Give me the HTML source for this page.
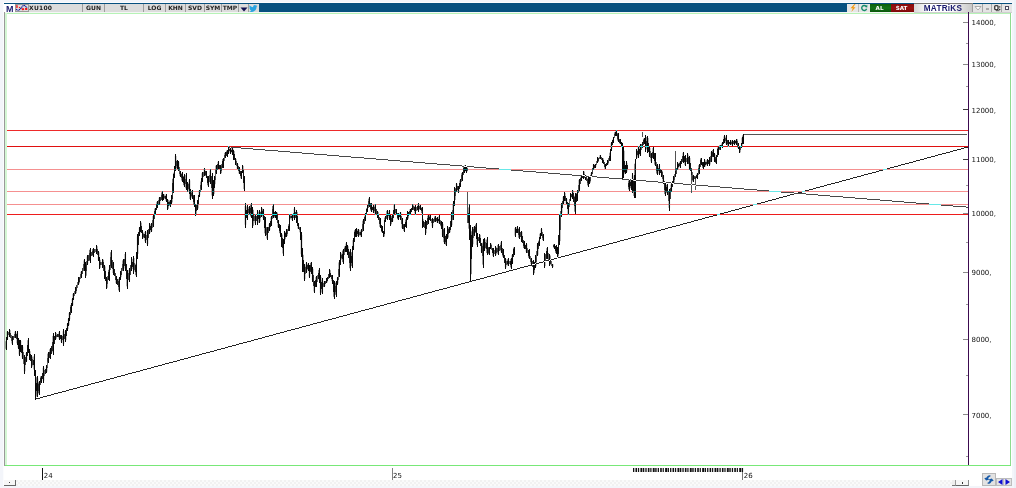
<!DOCTYPE html>
<html><head><meta charset="utf-8"><title>XU100</title>
<style>
html,body{margin:0;padding:0;}
body{width:1016px;height:488px;overflow:hidden;background:#f3f5fa;position:relative;font-family:"DejaVu Sans","Liberation Sans",sans-serif;}
.abs{position:absolute;}
.tb{position:absolute;top:4px;height:8px;background:#dcdcdc;border-right:1px solid #9e9e9e;box-sizing:border-box;font:bold 6px/8.800px "DejaVu Sans","Liberation Sans",sans-serif;color:#222;text-align:center;white-space:nowrap;overflow:hidden;}
</style></head><body>
<div class="abs" style="left:1014px;top:0;width:2px;height:488px;background:#edf0f7;"></div>
<!-- window frame -->
<div class="abs" style="left:3px;top:2px;width:1009px;height:484px;background:#fbfcfe;"></div>
<div class="abs" style="left:4px;top:3px;width:1008px;height:483px;background:#fff;"></div>
<div class="abs" style="left:4px;top:3px;width:1008px;height:9px;background:#07507f;"></div>
<!-- toolbar left -->
<div class="abs" style="left:4px;top:4px;width:11px;height:9px;background:#fff;"></div>
<div class="abs" style="left:6px;top:3.700px;font:bold 9px/10px 'Liberation Sans',sans-serif;color:#1a1a6e;">M</div>
<div class="tb" style="left:15px;width:68px;text-align:left;padding-left:14px;letter-spacing:.25px;">XU100</div>
<svg class="abs" style="left:15px;top:4px" width="14" height="8" viewBox="0 0 14 8"><rect x=".5" y=".5" width="13" height="7" fill="#dedede" stroke="#9a9a9a"/><path d="M1.300 1 H2.400 L2.900 3.600 L1.300 4.200Z M3.900 2.800 L5.200 3.200 L5.200 4.300 L3.900 4Z M6.300 4.300 L9 4.200 L9.200 6 L7 6.300Z M10 4.100 L12.300 3.900 V6 L10.200 6.100Z" fill="#f01414"/><path d="M1.200 5.200 Q3 7.400 5 5.200 L7.400 2.400 Q9 0.600 10.600 2.300 L12 3.800" stroke="#0a0a96" stroke-width="1.100" stroke-dasharray="1.200 .45" fill="none"/></svg>
<div class="tb" style="left:83px;width:22px;">GUN</div>
<div class="tb" style="left:105px;width:39px;">TL</div>
<div class="tb" style="left:144px;width:22px;">LOG</div>
<div class="tb" style="left:166px;width:20px;">KHN</div>
<div class="tb" style="left:186px;width:19px;">SVD</div>
<div class="tb" style="left:205px;width:17px;">SYM</div>
<div class="tb" style="left:222px;width:17px;">TMP</div>
<div class="tb" style="left:239px;width:10px;"></div>
<svg class="abs" style="left:240px;top:6.500px" width="8" height="5"><path d="M0.5 0.5 H7.5 L4 4.5Z" fill="#101050"/></svg>
<div class="tb" style="left:249px;width:10px;border-right:none;"></div>
<svg class="abs" style="left:249.300px;top:4.600px" width="8.600" height="7.200" viewBox="0 0 24 20"><path fill="#2aa3e0" d="M23.6 2.4c-.9.4-1.800.7-2.800.8 1-.6 1.800-1.600 2.100-2.700-.9.600-2 1-3.100 1.200C19 .7 17.700.1 16.300.1c-2.700 0-4.800 2.200-4.800 4.800 0 .4 0 .8.100 1.100C7.600 5.800 4 3.900 1.700 1-.0 3.800 1.500 6.400 2.700 7.400c-.8 0-1.500-.2-2.200-.6v.1c0 2.300 1.700 4.300 3.900 4.700-.7.2-1.500.2-2.200.1.600 1.900 2.400 3.300 4.500 3.400-1.700 1.300-3.700 2.100-6 2.100H0c2.100 1.400 4.700 2.200 7.400 2.200 8.900 0 13.700-7.300 13.700-13.700v-.6c1-.7 1.800-1.500 2.500-2.500z"/></svg>
<!-- toolbar right -->
<div class="tb" style="left:847px;width:12px;background:#e6e6e6;border-right-color:#b8b8b8;"></div>
<svg class="abs" style="left:849px;top:4px" width="8" height="8" viewBox="0 0 8 8"><path d="M5.5 0 L1.5 4.200 H3.800 L2.300 8 L6.500 3.200 H4.200 L6.500 0Z" fill="#f59a10"/></svg>
<div class="tb" style="left:859px;width:11px;border-right:none;background:#e6e6e6;"></div>
<svg class="abs" style="left:860px;top:4px" width="9" height="8" viewBox="0 0 9 8"><path d="M6.100 2.300 A2.500 2.500 0 1 0 6.600 4.800" stroke="#148a6a" stroke-width="1.400" fill="none"/><path d="M4.800 2.900 L7.300 0.800 L7.300 3.600Z" fill="#148a6a"/></svg>
<div class="tb" style="left:870px;width:21px;background:linear-gradient(#0b5e0b,#13741a 50%,#0a560a);color:#fff;border-right:none;font-size:5.600px;padding-right:2px;">AL</div>
<div class="tb" style="left:891px;width:23px;background:linear-gradient(#850b0b,#9a1212 50%,#7c0909);color:#fff;border-right:none;font-size:5.600px;padding-right:2px;">SAT</div>
<div class="tb" style="left:914px;top:3px;height:9px;width:59px;background:linear-gradient(90deg,#d8d8d8,#fff 25%,#fff 60%,#c8c8c8);border-top:1px solid #777;color:#1a1a6e;font:bold 8.200px/10.800px 'Liberation Sans',sans-serif;letter-spacing:.25px;border-bottom:1px solid #aaa;height:10px;">MATRiKS</div>
<div class="tb" style="left:973px;width:10px;background:#e4e4e4;border-right-color:#a8a8a8;"></div>
<svg class="abs" style="left:974px;top:6px" width="8" height="5"><path d="M1 0.5 H7 L4 4Z" fill="#fff" stroke="#999" stroke-width=".8"/></svg>
<div class="tb" style="left:983px;width:9px;background:#e4e4e4;border-right-color:#a8a8a8;"></div>
<div class="abs" style="left:986px;top:8px;width:3px;height:2px;border:1px solid #aaa;box-sizing:border-box;"></div>
<div class="tb" style="left:992px;width:10px;background:#e4e4e4;border-right-color:#a8a8a8;"></div>
<svg class="abs" style="left:993px;top:4px" width="9" height="8"><rect x="1.800" y="1.700" width="3.200" height="4" rx=".6" fill="#fff" stroke="#111" stroke-width="1.100"/><path d="M3 6.700 H6.500" stroke="#333" stroke-width=".8"/><rect x="6.200" y="2.300" width="1.100" height="1.200" fill="#111"/><rect x="6.200" y="4.800" width="1.100" height="1.200" fill="#111"/></svg>
<div class="tb" style="left:1002px;width:10px;background:#e4e4e4;border-right:none;"></div>
<div class="abs" style="left:1005px;top:6px;width:4px;height:4px;border:1px solid #4a4a60;box-sizing:border-box;background:#fff;"></div>
<!-- gap row & green frame -->
<div class="abs" style="left:4px;top:12px;width:1008px;height:1px;background:#f4f6f4;"></div>
<div class="abs" style="left:914px;top:12px;width:98px;height:1px;background:#cfcfcf;"></div>
<div class="abs" style="left:4px;top:12px;width:1px;height:454px;background:#9a9a9a;"></div>
<div class="abs" style="left:5px;top:13px;width:1006px;height:1px;background:#b6f2b6;"></div>
<div class="abs" style="left:5px;top:13px;width:2px;height:453px;background:#d4f7d4;"></div>
<div class="abs" style="left:1010px;top:13px;width:1px;height:453px;background:#8fdc8f;"></div>
<div class="abs" style="left:5px;top:465px;width:1006px;height:1px;background:#78e878;"></div>
<!-- chart -->
<svg class="abs" style="left:0;top:0" width="1016" height="488" viewBox="0 0 1016 488" shape-rendering="crispEdges">

<rect x="7" y="14" width="1003" height="451" fill="#fff"/>
<rect x="968" y="12" width="1" height="453" fill="#3c0a50"/>
<rect x="963" y="414" width="5" height="1" fill="#8a8a8a"/><rect x="963" y="339" width="5" height="1" fill="#8a8a8a"/><rect x="963" y="272" width="5" height="1" fill="#8a8a8a"/><rect x="963" y="213" width="5" height="1" fill="#8a8a8a"/><rect x="963" y="159" width="5" height="1" fill="#3a3a3a"/><rect x="963" y="109" width="5" height="1" fill="#3a3a3a"/><rect x="963" y="64" width="5" height="1" fill="#8a8a8a"/><rect x="963" y="22" width="5" height="1" fill="#8a8a8a"/><rect x="966" y="456" width="2" height="1" fill="#999"/><rect x="966" y="375" width="2" height="1" fill="#999"/><rect x="966" y="304" width="2" height="1" fill="#999"/><rect x="966" y="242" width="2" height="1" fill="#999"/><rect x="966" y="185" width="2" height="1" fill="#999"/><rect x="966" y="86" width="2" height="1" fill="#999"/><rect x="966" y="43" width="2" height="1" fill="#999"/>
<!-- horizontal levels -->
<rect x="7" y="130" width="961" height="1" fill="#ee2a2a"/>
<rect x="7" y="146" width="961" height="1" fill="#e01010"/>
<rect x="7" y="169" width="961" height="1" fill="#f59090"/>
<rect x="7" y="191" width="961" height="1" fill="#f59090"/>
<rect x="7" y="204" width="961" height="1" fill="#f59090"/>
<rect x="7" y="214" width="961" height="1" fill="#ee1c1c"/>
<rect x="744" y="134" width="223" height="1" fill="#555"/>

<g fill="#080808">
<rect x="6" y="337.3" width="1" height="12.7"/>
<rect x="7" y="331.0" width="1" height="9.0"/>
<rect x="8" y="332.2" width="1" height="3.1" opacity=".62"/>
<rect x="9" y="329.0" width="1" height="8.0"/>
<rect x="10" y="332.5" width="1" height="5.5" opacity=".78"/>
<rect x="11" y="335.3" width="1" height="5.6" opacity=".62"/>
<rect x="12" y="336.0" width="1" height="8.6"/>
<rect x="13" y="335.7" width="1" height="4.6" opacity=".78"/>
<rect x="14" y="333.9" width="1" height="4.4" opacity=".62"/>
<rect x="15" y="330.8" width="1" height="7.2"/>
<rect x="16" y="333.7" width="1" height="5.4" opacity=".78"/>
<rect x="17" y="331.0" width="1" height="14.0"/>
<rect x="18" y="338.0" width="1" height="11.0"/>
<rect x="19" y="340.0" width="1" height="16.4"/>
<rect x="20" y="339.5" width="1" height="12.5"/>
<rect x="21" y="345.1" width="1" height="7.5" opacity=".92"/>
<rect x="22" y="345.0" width="1" height="14.0"/>
<rect x="23" y="352.3" width="1" height="11.2" opacity=".62"/>
<rect x="24" y="355.0" width="1" height="18.5"/>
<rect x="25" y="356.5" width="1" height="8.6" opacity=".78"/>
<rect x="26" y="352.0" width="1" height="10.0"/>
<rect x="27" y="344.9" width="1" height="10.8" opacity=".92"/>
<rect x="28" y="338.4" width="1" height="14.6"/>
<rect x="29" y="348.9" width="1" height="11.1"/>
<rect x="30" y="354.1" width="1" height="6.8" opacity=".92"/>
<rect x="31" y="355.0" width="1" height="13.0"/>
<rect x="32" y="359.3" width="1" height="5.2" opacity=".62"/>
<rect x="33" y="359.6" width="1" height="5.8" opacity=".92"/>
<rect x="34" y="354.3" width="1" height="22.1"/>
<rect x="35" y="369.5" width="1" height="30.1"/>
<rect x="36" y="382.7" width="1" height="8.1" opacity=".92"/>
<rect x="37" y="376.0" width="1" height="21.0"/>
<rect x="38" y="384.2" width="1" height="6.4" opacity=".62"/>
<rect x="39" y="380.7" width="1" height="14.3"/>
<rect x="40" y="377.7" width="1" height="7.3" opacity=".78"/>
<rect x="41" y="375.5" width="1" height="7.5"/>
<rect x="42" y="373.1" width="1" height="6.3" opacity=".92"/>
<rect x="43" y="365.8" width="1" height="16.9"/>
<rect x="44" y="369.6" width="1" height="6.1" opacity=".62"/>
<rect x="45" y="368.5" width="1" height="5.0" opacity=".92"/>
<rect x="46" y="365.2" width="1" height="7.3"/>
<rect x="47" y="357.6" width="1" height="10.2" opacity=".62"/>
<rect x="48" y="352.3" width="1" height="10.7"/>
<rect x="49" y="352.1" width="1" height="5.7" opacity=".78"/>
<rect x="50" y="348.0" width="1" height="11.0"/>
<rect x="51" y="345.5" width="1" height="8.1" opacity=".92"/>
<rect x="52" y="341.9" width="1" height="9.3" opacity=".78"/>
<rect x="53" y="333.3" width="1" height="21.7"/>
<rect x="54" y="336.1" width="1" height="8.2" opacity=".92"/>
<rect x="55" y="332.3" width="1" height="7.7"/>
<rect x="56" y="334.5" width="1" height="2.6" opacity=".62"/>
<rect x="57" y="334.3" width="1" height="2.7" opacity=".92"/>
<rect x="58" y="334.1" width="1" height="2.8" opacity=".78"/>
<rect x="59" y="331.3" width="1" height="8.2"/>
<rect x="60" y="335.1" width="1" height="4.2" opacity=".92"/>
<rect x="61" y="335.0" width="1" height="7.5"/>
<rect x="62" y="335.8" width="1" height="4.6" opacity=".62"/>
<rect x="63" y="329.2" width="1" height="16.4"/>
<rect x="64" y="333.9" width="1" height="5.4" opacity=".78"/>
<rect x="65" y="330.0" width="1" height="11.5"/>
<rect x="66" y="327.7" width="1" height="7.8" opacity=".92"/>
<rect x="67" y="323.0" width="1" height="7.5"/>
<rect x="68" y="318.0" width="1" height="8.0"/>
<rect x="69" y="312.0" width="1" height="8.7"/>
<rect x="70" y="307.1" width="1" height="7.9" opacity=".78"/>
<rect x="71" y="302.7" width="1" height="10.3"/>
<rect x="72" y="297.6" width="1" height="8.4"/>
<rect x="73" y="293.0" width="1" height="7.1"/>
<rect x="74" y="291.3" width="1" height="4.9" opacity=".62"/>
<rect x="75" y="286.8" width="1" height="7.2"/>
<rect x="76" y="285.4" width="1" height="5.5" opacity=".78"/>
<rect x="77" y="282.3" width="1" height="5.5" opacity=".62"/>
<rect x="78" y="277.0" width="1" height="7.7"/>
<rect x="79" y="276.7" width="1" height="4.9" opacity=".78"/>
<rect x="80" y="274.2" width="1" height="4.9" opacity=".62"/>
<rect x="81" y="270.8" width="1" height="7.2"/>
<rect x="82" y="267.9" width="1" height="6.1" opacity=".78"/>
<rect x="83" y="264.4" width="1" height="6.6" opacity=".62"/>
<rect x="84" y="259.0" width="1" height="11.8"/>
<rect x="85" y="262.0" width="1" height="15.5"/>
<rect x="86" y="260.9" width="1" height="10.4" opacity=".62"/>
<rect x="87" y="255.4" width="1" height="9.2"/>
<rect x="88" y="255.4" width="1" height="5.6" opacity=".78"/>
<rect x="89" y="253.1" width="1" height="6.4" opacity=".62"/>
<rect x="90" y="248.0" width="1" height="14.8"/>
<rect x="91" y="251.5" width="1" height="4.9" opacity=".78"/>
<rect x="92" y="250.9" width="1" height="4.3" opacity=".62"/>
<rect x="93" y="248.0" width="1" height="9.0"/>
<rect x="94" y="249.4" width="1" height="3.7" opacity=".78"/>
<rect x="95" y="248.6" width="1" height="3.7" opacity=".62"/>
<rect x="96" y="245.2" width="1" height="8.3"/>
<rect x="97" y="248.8" width="1" height="6.6" opacity=".78"/>
<rect x="98" y="251.0" width="1" height="10.0"/>
<rect x="99" y="256.9" width="1" height="12.1"/>
<rect x="100" y="261.9" width="1" height="3.5" opacity=".78"/>
<rect x="101" y="261.8" width="1" height="3.5" opacity=".62"/>
<rect x="102" y="258.5" width="1" height="9.8"/>
<rect x="103" y="262.0" width="1" height="8.6" opacity=".78"/>
<rect x="104" y="264.6" width="1" height="14.8"/>
<rect x="105" y="271.3" width="1" height="9.8" opacity=".92"/>
<rect x="106" y="276.8" width="1" height="12.4"/>
<rect x="107" y="276.4" width="1" height="8.0" opacity=".62"/>
<rect x="108" y="272.4" width="1" height="8.0" opacity=".92"/>
<rect x="109" y="264.9" width="1" height="15.7"/>
<rect x="110" y="257.1" width="1" height="12.8" opacity=".62"/>
<rect x="111" y="250.0" width="1" height="18.3"/>
<rect x="112" y="260.3" width="1" height="8.8" opacity=".78"/>
<rect x="113" y="262.0" width="1" height="12.5"/>
<rect x="114" y="268.8" width="1" height="7.6" opacity=".92"/>
<rect x="115" y="272.9" width="1" height="7.1" opacity=".78"/>
<rect x="116" y="275.7" width="1" height="8.6"/>
<rect x="117" y="279.2" width="1" height="5.5" opacity=".92"/>
<rect x="118" y="280.5" width="1" height="6.3" opacity=".78"/>
<rect x="119" y="276.9" width="1" height="15.4"/>
<rect x="120" y="271.4" width="1" height="8.9"/>
<rect x="121" y="268.2" width="1" height="6.6" opacity=".78"/>
<rect x="122" y="264.0" width="1" height="7.3" opacity=".62"/>
<rect x="123" y="259.0" width="1" height="11.8"/>
<rect x="124" y="259.3" width="1" height="7.0" opacity=".78"/>
<rect x="125" y="251.7" width="1" height="19.1"/>
<rect x="126" y="263.7" width="1" height="15.7" opacity=".92"/>
<rect x="127" y="269.5" width="1" height="19.1"/>
<rect x="128" y="273.2" width="1" height="7.2" opacity=".62"/>
<rect x="129" y="268.3" width="1" height="13.5"/>
<rect x="130" y="265.4" width="1" height="9.1" opacity=".78"/>
<rect x="131" y="257.2" width="1" height="13.6"/>
<rect x="132" y="261.6" width="1" height="5.5" opacity=".92"/>
<rect x="133" y="256.0" width="1" height="17.8"/>
<rect x="134" y="262.7" width="1" height="7.5" opacity=".62"/>
<rect x="135" y="264.8" width="1" height="7.1" opacity=".92"/>
<rect x="136" y="252.2" width="1" height="24.8"/>
<rect x="137" y="234.0" width="1" height="24.6"/>
<rect x="138" y="232.3" width="1" height="12.6" opacity=".92"/>
<rect x="139" y="226.8" width="1" height="9.4"/>
<rect x="140" y="221.3" width="1" height="10.5"/>
<rect x="141" y="225.8" width="1" height="7.3" opacity=".92"/>
<rect x="142" y="230.3" width="1" height="8.7"/>
<rect x="143" y="234.1" width="1" height="3.3" opacity=".62"/>
<rect x="144" y="234.2" width="1" height="4.0" opacity=".92"/>
<rect x="145" y="230.5" width="1" height="12.3"/>
<rect x="146" y="234.7" width="1" height="5.3" opacity=".62"/>
<rect x="147" y="230.0" width="1" height="16.0"/>
<rect x="148" y="229.3" width="1" height="8.8" opacity=".78"/>
<rect x="149" y="223.0" width="1" height="11.0"/>
<rect x="150" y="226.2" width="1" height="3.8" opacity=".92"/>
<rect x="151" y="223.0" width="1" height="9.4"/>
<rect x="152" y="220.3" width="1" height="7.3" opacity=".62"/>
<rect x="153" y="214.5" width="1" height="12.3"/>
<rect x="154" y="210.7" width="1" height="8.2" opacity=".78"/>
<rect x="155" y="207.6" width="1" height="6.9"/>
<rect x="156" y="204.4" width="1" height="5.4" opacity=".92"/>
<rect x="157" y="201.0" width="1" height="7.4"/>
<rect x="158" y="200.3" width="1" height="4.4" opacity=".62"/>
<rect x="159" y="196.7" width="1" height="8.0"/>
<rect x="160" y="196.5" width="1" height="4.7" opacity=".78"/>
<rect x="161" y="194.5" width="1" height="5.0" opacity=".62"/>
<rect x="162" y="191.2" width="1" height="9.8"/>
<rect x="163" y="193.6" width="1" height="6.2"/>
<rect x="164" y="195.7" width="1" height="2.6" opacity=".62"/>
<rect x="165" y="195.9" width="1" height="2.8" opacity=".92"/>
<rect x="166" y="193.6" width="1" height="8.3"/>
<rect x="167" y="198.5" width="1" height="11.7"/>
<rect x="168" y="202.0" width="1" height="4.0" opacity=".92"/>
<rect x="169" y="201.8" width="1" height="3.2" opacity=".78"/>
<rect x="170" y="199.7" width="1" height="6.8"/>
<rect x="171" y="194.8" width="1" height="8.7"/>
<rect x="172" y="182.7" width="1" height="16.2" opacity=".78"/>
<rect x="173" y="174.0" width="1" height="18.8"/>
<rect x="174" y="165.9" width="1" height="12.1"/>
<rect x="175" y="154.0" width="1" height="16.7"/>
<rect x="176" y="160.8" width="1" height="5.6" opacity=".62"/>
<rect x="177" y="159.6" width="1" height="9.8"/>
<rect x="178" y="160.8" width="1" height="9.9"/>
<rect x="179" y="166.7" width="1" height="7.0" opacity=".62"/>
<rect x="180" y="170.7" width="1" height="6.1"/>
<rect x="181" y="173.6" width="1" height="4.6" opacity=".78"/>
<rect x="182" y="172.0" width="1" height="9.8"/>
<rect x="183" y="176.7" width="1" height="5.8" opacity=".92"/>
<rect x="184" y="174.4" width="1" height="12.3"/>
<rect x="185" y="178.5" width="1" height="5.7" opacity=".62"/>
<rect x="186" y="173.0" width="1" height="17.4"/>
<rect x="187" y="181.8" width="1" height="9.8"/>
<rect x="188" y="184.1" width="1" height="4.4" opacity=".62"/>
<rect x="189" y="178.7" width="1" height="14.9"/>
<rect x="190" y="188.7" width="1" height="11.7"/>
<rect x="191" y="192.7" width="1" height="3.3" opacity=".62"/>
<rect x="192" y="190.0" width="1" height="8.7"/>
<rect x="193" y="195.4" width="1" height="6.7" opacity=".78"/>
<rect x="194" y="194.8" width="1" height="12.6"/>
<rect x="195" y="203.5" width="1" height="12.3"/>
<rect x="196" y="204.9" width="1" height="6.1" opacity=".78"/>
<rect x="197" y="200.4" width="1" height="9.2"/>
<rect x="198" y="195.0" width="1" height="9.2" opacity=".92"/>
<rect x="199" y="189.7" width="1" height="7.6"/>
<rect x="200" y="184.8" width="1" height="7.2" opacity=".62"/>
<rect x="201" y="178.1" width="1" height="11.9"/>
<rect x="202" y="172.0" width="1" height="9.8"/>
<rect x="203" y="171.7" width="1" height="5.2" opacity=".62"/>
<rect x="204" y="168.2" width="1" height="7.4"/>
<rect x="205" y="171.4" width="1" height="3.3" opacity=".78"/>
<rect x="206" y="170.7" width="1" height="7.7"/>
<rect x="207" y="175.6" width="1" height="7.1" opacity=".92"/>
<rect x="208" y="175.6" width="1" height="11.1"/>
<rect x="209" y="175.0" width="1" height="6.5" opacity=".62"/>
<rect x="210" y="168.8" width="1" height="15.4"/>
<rect x="211" y="175.9" width="1" height="11.9" opacity=".78"/>
<rect x="212" y="173.0" width="1" height="25.5"/>
<rect x="213" y="180.0" width="1" height="16.0"/>
<rect x="214" y="175.6" width="1" height="12.0"/>
<rect x="215" y="169.9" width="1" height="10.2" opacity=".62"/>
<rect x="216" y="164.5" width="1" height="9.9"/>
<rect x="217" y="164.4" width="1" height="5.1" opacity=".78"/>
<rect x="218" y="160.8" width="1" height="8.6"/>
<rect x="219" y="164.6" width="1" height="4.8" opacity=".92"/>
<rect x="220" y="164.5" width="1" height="9.9"/>
<rect x="221" y="164.4" width="1" height="6.4" opacity=".62"/>
<rect x="222" y="161.3" width="1" height="6.5" opacity=".92"/>
<rect x="223" y="157.8" width="1" height="10.4"/>
<rect x="224" y="154.8" width="1" height="6.0" opacity=".62"/>
<rect x="225" y="152.2" width="1" height="6.2"/>
<rect x="226" y="152.1" width="1" height="3.4" opacity=".78"/>
<rect x="227" y="149.8" width="1" height="6.7"/>
<rect x="228" y="146.0" width="1" height="7.5"/>
<rect x="229" y="148.7" width="1" height="2.6" opacity=".78"/>
<rect x="230" y="147.3" width="1" height="6.2"/>
<rect x="231" y="149.5" width="1" height="2.6" opacity=".92"/>
<rect x="232" y="148.0" width="1" height="6.7"/>
<rect x="233" y="149.8" width="1" height="9.8"/>
<rect x="234" y="154.0" width="1" height="6.3" opacity=".92"/>
<rect x="235" y="157.9" width="1" height="6.6"/>
<rect x="236" y="161.3" width="1" height="4.7" opacity=".62"/>
<rect x="237" y="163.3" width="1" height="6.1"/>
<rect x="238" y="166.4" width="1" height="4.5" opacity=".78"/>
<rect x="239" y="167.0" width="1" height="7.4"/>
<rect x="240" y="171.1" width="1" height="5.2" opacity=".92"/>
<rect x="241" y="170.8" width="1" height="8.5"/>
<rect x="242" y="165.0" width="1" height="8.2"/>
<rect x="243" y="169.6" width="1" height="12.9" opacity=".92"/>
<rect x="244" y="175.6" width="1" height="15.4"/>
<rect x="245" y="203.0" width="1" height="24.6"/>
<rect x="246" y="209.6" width="1" height="8.0" opacity=".92"/>
<rect x="247" y="204.8" width="1" height="14.8"/>
<rect x="248" y="208.7" width="1" height="4.7" opacity=".62"/>
<rect x="249" y="206.0" width="1" height="8.7"/>
<rect x="250" y="208.3" width="1" height="4.7" opacity=".78"/>
<rect x="251" y="203.0" width="1" height="15.4"/>
<rect x="252" y="207.3" width="1" height="20.9"/>
<rect x="253" y="214.7" width="1" height="6.6" opacity=".78"/>
<rect x="254" y="215.9" width="1" height="5.3" opacity=".62"/>
<rect x="255" y="213.5" width="1" height="11.0"/>
<rect x="256" y="215.7" width="1" height="5.0" opacity=".78"/>
<rect x="257" y="209.8" width="1" height="14.7"/>
<rect x="258" y="214.4" width="1" height="5.0" opacity=".92"/>
<rect x="259" y="209.8" width="1" height="13.5"/>
<rect x="260" y="212.0" width="1" height="6.0" opacity=".62"/>
<rect x="261" y="207.3" width="1" height="9.7"/>
<rect x="262" y="210.6" width="1" height="4.7" opacity=".78"/>
<rect x="263" y="208.5" width="1" height="11.5"/>
<rect x="264" y="215.5" width="1" height="12.0" opacity=".92"/>
<rect x="265" y="217.0" width="1" height="18.6"/>
<rect x="266" y="226.5" width="1" height="8.4" opacity=".62"/>
<rect x="267" y="227.0" width="1" height="13.0"/>
<rect x="268" y="226.8" width="1" height="6.2" opacity=".78"/>
<rect x="269" y="223.3" width="1" height="7.4"/>
<rect x="270" y="220.8" width="1" height="6.1" opacity=".92"/>
<rect x="271" y="215.6" width="1" height="10.2"/>
<rect x="272" y="209.2" width="1" height="10.2" opacity=".62"/>
<rect x="273" y="204.2" width="1" height="14.2"/>
<rect x="274" y="211.5" width="1" height="4.7" opacity=".78"/>
<rect x="275" y="211.0" width="1" height="7.4"/>
<rect x="276" y="211.6" width="1" height="8.0"/>
<rect x="277" y="214.8" width="1" height="8.3" opacity=".78"/>
<rect x="278" y="219.6" width="1" height="8.6"/>
<rect x="279" y="224.4" width="1" height="6.6" opacity=".92"/>
<rect x="280" y="224.5" width="1" height="12.5"/>
<rect x="281" y="233.0" width="1" height="13.7"/>
<rect x="282" y="238.4" width="1" height="9.9" opacity=".92"/>
<rect x="283" y="239.3" width="1" height="16.2"/>
<rect x="284" y="230.7" width="1" height="13.4"/>
<rect x="285" y="232.7" width="1" height="4.3" opacity=".92"/>
<rect x="286" y="229.4" width="1" height="7.4"/>
<rect x="287" y="228.6" width="1" height="5.2" opacity=".62"/>
<rect x="288" y="225.8" width="1" height="5.2" opacity=".92"/>
<rect x="289" y="214.0" width="1" height="16.7"/>
<rect x="290" y="216.0" width="1" height="2.2" opacity=".62"/>
<rect x="291" y="215.9" width="1" height="2.3" opacity=".92"/>
<rect x="292" y="213.5" width="1" height="7.3"/>
<rect x="293" y="212.6" width="1" height="5.0" opacity=".62"/>
<rect x="294" y="207.3" width="1" height="12.3"/>
<rect x="295" y="212.1" width="1" height="5.4" opacity=".78"/>
<rect x="296" y="210.4" width="1" height="12.3"/>
<rect x="297" y="216.2" width="1" height="9.3" opacity=".92"/>
<rect x="298" y="222.9" width="1" height="6.5"/>
<rect x="299" y="226.5" width="1" height="3.9" opacity=".62"/>
<rect x="300" y="227.0" width="1" height="13.1"/>
<rect x="301" y="232.0" width="1" height="25.3"/>
<rect x="302" y="247.9" width="1" height="24.1"/>
<rect x="303" y="260.2" width="1" height="11.9" opacity=".92"/>
<rect x="304" y="263.5" width="1" height="17.8"/>
<rect x="305" y="266.6" width="1" height="7.3" opacity=".62"/>
<rect x="306" y="262.2" width="1" height="11.1"/>
<rect x="307" y="265.4" width="1" height="3.6" opacity=".78"/>
<rect x="308" y="262.8" width="1" height="8.2"/>
<rect x="309" y="264.7" width="1" height="13.5"/>
<rect x="310" y="264.9" width="1" height="6.9" opacity=".78"/>
<rect x="311" y="261.6" width="1" height="12.0"/>
<rect x="312" y="267.0" width="1" height="15.0"/>
<rect x="313" y="275.0" width="1" height="11.4" opacity=".78"/>
<rect x="314" y="280.7" width="1" height="12.3"/>
<rect x="315" y="280.3" width="1" height="6.7" opacity=".92"/>
<rect x="316" y="275.8" width="1" height="11.0"/>
<rect x="317" y="275.3" width="1" height="6.2" opacity=".62"/>
<rect x="318" y="272.8" width="1" height="6.4" opacity=".92"/>
<rect x="319" y="268.4" width="1" height="14.8"/>
<rect x="320" y="274.5" width="1" height="20.9"/>
<rect x="321" y="282.2" width="1" height="6.8" opacity=".92"/>
<rect x="322" y="278.2" width="1" height="16.0"/>
<rect x="323" y="282.5" width="1" height="4.7" opacity=".62"/>
<rect x="324" y="280.7" width="1" height="6.1"/>
<rect x="325" y="280.5" width="1" height="3.4" opacity=".78"/>
<rect x="326" y="277.6" width="1" height="5.4"/>
<rect x="327" y="276.6" width="1" height="4.3" opacity=".92"/>
<rect x="328" y="274.1" width="1" height="4.7" opacity=".78"/>
<rect x="329" y="269.0" width="1" height="9.2"/>
<rect x="330" y="272.5" width="1" height="4.7" opacity=".92"/>
<rect x="331" y="274.5" width="1" height="4.5" opacity=".78"/>
<rect x="332" y="274.5" width="1" height="9.7"/>
<rect x="333" y="280.3" width="1" height="11.3" opacity=".92"/>
<rect x="334" y="280.7" width="1" height="18.3"/>
<rect x="335" y="286.0" width="1" height="6.1" opacity=".62"/>
<rect x="336" y="280.7" width="1" height="16.0"/>
<rect x="337" y="276.6" width="1" height="8.4"/>
<rect x="338" y="268.8" width="1" height="11.1" opacity=".62"/>
<rect x="339" y="260.4" width="1" height="16.6"/>
<rect x="340" y="252.4" width="1" height="12.6"/>
<rect x="341" y="254.7" width="1" height="3.4" opacity=".62"/>
<rect x="342" y="254.1" width="1" height="4.5" opacity=".92"/>
<rect x="343" y="248.7" width="1" height="15.3"/>
<rect x="344" y="248.1" width="1" height="6.5" opacity=".62"/>
<rect x="345" y="245.6" width="1" height="6.8"/>
<rect x="346" y="242.4" width="1" height="9.2"/>
<rect x="347" y="245.0" width="1" height="9.8"/>
<rect x="348" y="248.8" width="1" height="8.7" opacity=".92"/>
<rect x="349" y="252.1" width="1" height="10.4" opacity=".78"/>
<rect x="350" y="248.7" width="1" height="22.1"/>
<rect x="351" y="256.0" width="1" height="6.7" opacity=".92"/>
<rect x="352" y="246.0" width="1" height="22.4"/>
<rect x="353" y="238.3" width="1" height="12.1"/>
<rect x="354" y="231.7" width="1" height="9.9" opacity=".92"/>
<rect x="355" y="229.4" width="1" height="7.4"/>
<rect x="356" y="228.2" width="1" height="8.8"/>
<rect x="357" y="231.2" width="1" height="2.9" opacity=".92"/>
<rect x="358" y="228.8" width="1" height="8.0"/>
<rect x="359" y="231.6" width="1" height="2.9" opacity=".62"/>
<rect x="360" y="231.8" width="1" height="2.9" opacity=".92"/>
<rect x="361" y="228.6" width="1" height="8.8"/>
<rect x="362" y="224.1" width="1" height="7.6" opacity=".62"/>
<rect x="363" y="219.3" width="1" height="11.3"/>
<rect x="364" y="217.4" width="1" height="6.1" opacity=".78"/>
<rect x="365" y="213.4" width="1" height="7.6"/>
<rect x="366" y="208.9" width="1" height="6.1" opacity=".92"/>
<rect x="367" y="205.3" width="1" height="6.2"/>
<rect x="368" y="201.3" width="1" height="6.2" opacity=".62"/>
<rect x="369" y="197.4" width="1" height="9.8"/>
<rect x="370" y="203.2" width="1" height="5.5" opacity=".78"/>
<rect x="371" y="203.0" width="1" height="8.5"/>
<rect x="372" y="206.5" width="1" height="3.3" opacity=".92"/>
<rect x="373" y="204.8" width="1" height="8.0"/>
<rect x="374" y="207.4" width="1" height="3.4" opacity=".62"/>
<rect x="375" y="204.0" width="1" height="10.6"/>
<rect x="376" y="209.3" width="1" height="5.1" opacity=".78"/>
<rect x="377" y="211.0" width="1" height="7.3"/>
<rect x="378" y="214.0" width="1" height="6.2" opacity=".92"/>
<rect x="379" y="217.4" width="1" height="6.5" opacity=".78"/>
<rect x="380" y="218.3" width="1" height="9.7"/>
<rect x="381" y="224.6" width="1" height="6.1" opacity=".92"/>
<rect x="382" y="225.7" width="1" height="7.3"/>
<rect x="383" y="230.6" width="1" height="6.8"/>
<rect x="384" y="219.7" width="1" height="14.0" opacity=".92"/>
<rect x="385" y="216.4" width="1" height="5.6"/>
<rect x="386" y="213.7" width="1" height="5.0" opacity=".62"/>
<rect x="387" y="209.7" width="1" height="9.8"/>
<rect x="388" y="213.0" width="1" height="3.2" opacity=".78"/>
<rect x="389" y="209.7" width="1" height="9.8"/>
<rect x="390" y="214.6" width="1" height="11.1"/>
<rect x="391" y="217.8" width="1" height="3.8" opacity=".78"/>
<rect x="392" y="215.3" width="1" height="6.7"/>
<rect x="393" y="209.7" width="1" height="7.9" opacity=".92"/>
<rect x="394" y="204.0" width="1" height="10.0"/>
<rect x="395" y="208.6" width="1" height="3.9" opacity=".62"/>
<rect x="396" y="208.5" width="1" height="6.2"/>
<rect x="397" y="212.6" width="1" height="5.0" opacity=".78"/>
<rect x="398" y="212.8" width="1" height="7.2"/>
<rect x="399" y="214.4" width="1" height="2.9" opacity=".92"/>
<rect x="400" y="211.5" width="1" height="8.0"/>
<rect x="401" y="216.1" width="1" height="7.6" opacity=".62"/>
<rect x="402" y="218.3" width="1" height="11.1"/>
<rect x="403" y="223.8" width="1" height="5.3" opacity=".78"/>
<rect x="404" y="224.4" width="1" height="7.4"/>
<rect x="405" y="221.7" width="1" height="5.7" opacity=".92"/>
<rect x="406" y="217.4" width="1" height="10.6"/>
<rect x="407" y="211.0" width="1" height="9.4"/>
<rect x="408" y="212.3" width="1" height="4.1" opacity=".92"/>
<rect x="409" y="211.0" width="1" height="3.8" opacity=".78"/>
<rect x="410" y="208.5" width="1" height="6.1"/>
<rect x="411" y="207.6" width="1" height="3.9" opacity=".92"/>
<rect x="412" y="204.0" width="1" height="6.3"/>
<rect x="413" y="206.2" width="1" height="3.4" opacity=".62"/>
<rect x="414" y="206.9" width="1" height="3.9" opacity=".92"/>
<rect x="415" y="204.8" width="1" height="9.8"/>
<rect x="416" y="206.9" width="1" height="3.8" opacity=".62"/>
<rect x="417" y="206.3" width="1" height="3.8" opacity=".92"/>
<rect x="418" y="203.0" width="1" height="9.0"/>
<rect x="419" y="206.4" width="1" height="2.3" opacity=".62"/>
<rect x="420" y="204.8" width="1" height="5.5"/>
<rect x="421" y="207.6" width="1" height="3.8" opacity=".78"/>
<rect x="422" y="206.6" width="1" height="20.9"/>
<rect x="423" y="221.2" width="1" height="5.3" opacity=".92"/>
<rect x="424" y="222.4" width="1" height="5.9" opacity=".78"/>
<rect x="425" y="219.5" width="1" height="15.5"/>
<rect x="426" y="220.8" width="1" height="7.7" opacity=".92"/>
<rect x="427" y="218.0" width="1" height="6.8" opacity=".78"/>
<rect x="428" y="214.6" width="1" height="9.2"/>
<rect x="429" y="216.5" width="1" height="3.2" opacity=".92"/>
<rect x="430" y="214.6" width="1" height="6.3"/>
<rect x="431" y="218.5" width="1" height="4.7" opacity=".62"/>
<rect x="432" y="218.3" width="1" height="9.2"/>
<rect x="433" y="219.2" width="1" height="4.2" opacity=".78"/>
<rect x="434" y="217.8" width="1" height="3.8" opacity=".62"/>
<rect x="435" y="215.8" width="1" height="6.2"/>
<rect x="436" y="218.4" width="1" height="2.5" opacity=".78"/>
<rect x="437" y="217.0" width="1" height="6.2"/>
<rect x="438" y="218.5" width="1" height="2.8" opacity=".92"/>
<rect x="439" y="215.2" width="1" height="9.2"/>
<rect x="440" y="220.2" width="1" height="4.7" opacity=".62"/>
<rect x="441" y="220.8" width="1" height="7.8"/>
<rect x="442" y="222.0" width="1" height="14.8"/>
<rect x="443" y="228.5" width="1" height="9.2" opacity=".62"/>
<rect x="444" y="228.0" width="1" height="16.0"/>
<rect x="445" y="235.7" width="1" height="6.6" opacity=".78"/>
<rect x="446" y="234.1" width="1" height="11.9"/>
<rect x="447" y="225.7" width="1" height="13.5"/>
<rect x="448" y="229.1" width="1" height="5.0" opacity=".78"/>
<rect x="449" y="227.0" width="1" height="6.0"/>
<rect x="450" y="221.2" width="1" height="8.8" opacity=".92"/>
<rect x="451" y="212.0" width="1" height="15.0"/>
<rect x="452" y="209.9" width="1" height="10.4" opacity=".62"/>
<rect x="453" y="200.7" width="1" height="18.8"/>
<rect x="454" y="187.0" width="1" height="19.2"/>
<rect x="455" y="187.5" width="1" height="8.1" opacity=".62"/>
<rect x="456" y="182.6" width="1" height="9.2"/>
<rect x="457" y="186.3" width="1" height="3.9" opacity=".78"/>
<rect x="458" y="185.7" width="1" height="7.3"/>
<rect x="459" y="183.0" width="1" height="5.8" opacity=".92"/>
<rect x="460" y="179.3" width="1" height="7.7"/>
<rect x="461" y="175.4" width="1" height="6.6" opacity=".62"/>
<rect x="462" y="171.8" width="1" height="9.0"/>
<rect x="463" y="168.4" width="1" height="6.1" opacity=".78"/>
<rect x="464" y="166.0" width="1" height="7.4"/>
<rect x="465" y="164.5" width="1" height="6.5"/>
<rect x="466" y="166.0" width="1" height="6.8"/>
<rect x="467" y="168.3" width="1" height="2.2" opacity=".62"/>
<rect x="467" y="191.8" width="1" height="31.4" opacity=".7"/>
<rect x="468" y="213.4" width="1" height="9.2" opacity=".92"/>
<rect x="469" y="204.0" width="1" height="35.8"/>
<rect x="470" y="224.5" width="1" height="56.5"/>
<rect x="471" y="235.3" width="1" height="23.7" opacity=".92"/>
<rect x="472" y="227.0" width="1" height="19.6"/>
<rect x="473" y="229.1" width="1" height="8.5" opacity=".62"/>
<rect x="474" y="225.7" width="1" height="9.8"/>
<rect x="475" y="227.0" width="1" height="4.6" opacity=".78"/>
<rect x="476" y="223.2" width="1" height="16.0"/>
<rect x="477" y="233.0" width="1" height="13.6"/>
<rect x="478" y="236.9" width="1" height="4.4" opacity=".78"/>
<rect x="479" y="233.7" width="1" height="9.3"/>
<rect x="480" y="237.8" width="1" height="8.4" opacity=".92"/>
<rect x="481" y="243.0" width="1" height="9.8"/>
<rect x="482" y="245.9" width="1" height="10.3" opacity=".62"/>
<rect x="483" y="239.2" width="1" height="28.8"/>
<rect x="484" y="238.0" width="1" height="13.0"/>
<rect x="485" y="242.1" width="1" height="5.6" opacity=".62"/>
<rect x="486" y="242.6" width="1" height="6.3" opacity=".92"/>
<rect x="487" y="237.4" width="1" height="17.8"/>
<rect x="488" y="246.7" width="1" height="6.1" opacity=".62"/>
<rect x="489" y="246.6" width="1" height="8.6"/>
<rect x="490" y="243.0" width="1" height="6.2"/>
<rect x="491" y="245.4" width="1" height="4.8" opacity=".62"/>
<rect x="492" y="247.7" width="1" height="5.3" opacity=".92"/>
<rect x="493" y="247.8" width="1" height="9.2"/>
<rect x="494" y="249.8" width="1" height="3.7" opacity=".62"/>
<rect x="495" y="246.0" width="1" height="9.8"/>
<rect x="496" y="248.4" width="1" height="4.1" opacity=".78"/>
<rect x="497" y="247.6" width="1" height="4.3" opacity=".62"/>
<rect x="498" y="243.5" width="1" height="11.7"/>
<rect x="499" y="246.0" width="1" height="4.7" opacity=".78"/>
<rect x="500" y="245.2" width="1" height="4.7" opacity=".62"/>
<rect x="501" y="241.0" width="1" height="11.8"/>
<rect x="502" y="247.8" width="1" height="6.8" opacity=".78"/>
<rect x="503" y="249.0" width="1" height="9.4"/>
<rect x="504" y="255.3" width="1" height="7.3" opacity=".92"/>
<rect x="505" y="257.7" width="1" height="11.1"/>
<rect x="506" y="261.1" width="1" height="3.7" opacity=".62"/>
<rect x="507" y="260.9" width="1" height="3.2" opacity=".92"/>
<rect x="508" y="258.3" width="1" height="8.0"/>
<rect x="509" y="261.0" width="1" height="3.4" opacity=".62"/>
<rect x="510" y="261.2" width="1" height="3.8" opacity=".92"/>
<rect x="511" y="257.7" width="1" height="11.1"/>
<rect x="512" y="254.0" width="1" height="9.8"/>
<rect x="513" y="249.4" width="1" height="8.0" opacity=".92"/>
<rect x="514" y="246.6" width="1" height="8.6"/>
<rect x="515" y="227.0" width="1" height="9.8"/>
<rect x="516" y="228.7" width="1" height="3.8" opacity=".92"/>
<rect x="517" y="226.3" width="1" height="6.7"/>
<rect x="518" y="229.3" width="1" height="5.3" opacity=".62"/>
<rect x="519" y="227.0" width="1" height="12.2"/>
<rect x="520" y="232.3" width="1" height="5.0" opacity=".78"/>
<rect x="521" y="230.6" width="1" height="11.1"/>
<rect x="522" y="235.9" width="1" height="6.9" opacity=".92"/>
<rect x="523" y="239.7" width="1" height="6.6" opacity=".78"/>
<rect x="524" y="240.5" width="1" height="8.5"/>
<rect x="525" y="244.5" width="1" height="4.3" opacity=".92"/>
<rect x="526" y="243.0" width="1" height="9.8"/>
<rect x="527" y="247.5" width="1" height="5.7" opacity=".62"/>
<rect x="528" y="249.9" width="1" height="5.7" opacity=".92"/>
<rect x="529" y="249.0" width="1" height="10.0"/>
<rect x="530" y="255.7" width="1" height="5.8" opacity=".62"/>
<rect x="531" y="257.7" width="1" height="7.3"/>
<rect x="532" y="261.1" width="1" height="6.0" opacity=".78"/>
<rect x="533" y="260.0" width="1" height="15.0"/>
<rect x="534" y="261.5" width="1" height="8.0" opacity=".92"/>
<rect x="535" y="255.2" width="1" height="12.8"/>
<rect x="536" y="251.3" width="1" height="10.6" opacity=".62"/>
<rect x="537" y="243.0" width="1" height="13.4"/>
<rect x="538" y="241.6" width="1" height="7.6" opacity=".78"/>
<rect x="539" y="236.7" width="1" height="9.3"/>
<rect x="540" y="232.6" width="1" height="6.6"/>
<rect x="541" y="228.2" width="1" height="7.3"/>
<rect x="542" y="232.4" width="1" height="5.8" opacity=".62"/>
<rect x="543" y="233.7" width="1" height="7.3"/>
<rect x="544" y="252.8" width="1" height="15.2"/>
<rect x="545" y="254.1" width="1" height="7.8" opacity=".62"/>
<rect x="546" y="251.2" width="1" height="7.4" opacity=".92"/>
<rect x="547" y="246.6" width="1" height="12.4"/>
<rect x="548" y="252.9" width="1" height="6.8" opacity=".62"/>
<rect x="549" y="254.0" width="1" height="12.3"/>
<rect x="550" y="258.6" width="1" height="5.5" opacity=".78"/>
<rect x="551" y="261.2" width="1" height="4.4" opacity=".62"/>
<rect x="552" y="263.8" width="1" height="3.7"/>
<rect x="553" y="245.2" width="1" height="1.6" opacity=".78"/>
<rect x="554" y="243.5" width="1" height="5.0"/>
<rect x="555" y="246.2" width="1" height="4.5" opacity=".92"/>
<rect x="556" y="244.8" width="1" height="9.2"/>
<rect x="557" y="246.6" width="1" height="11.1"/>
<rect x="558" y="235.3" width="1" height="18.5" opacity=".92"/>
<rect x="559" y="214.0" width="1" height="30.8"/>
<rect x="560" y="211.4" width="1" height="18.4" opacity=".62"/>
<rect x="561" y="203.0" width="1" height="14.1"/>
<rect x="562" y="200.7" width="1" height="7.7" opacity=".78"/>
<rect x="563" y="195.8" width="1" height="8.6"/>
<rect x="564" y="192.0" width="1" height="8.7"/>
<rect x="565" y="195.9" width="1" height="5.3" opacity=".78"/>
<rect x="566" y="198.2" width="1" height="6.2"/>
<rect x="567" y="201.8" width="1" height="7.3" opacity=".92"/>
<rect x="568" y="203.0" width="1" height="12.4"/>
<rect x="569" y="198.8" width="1" height="8.6" opacity=".62"/>
<rect x="570" y="193.3" width="1" height="7.9"/>
<rect x="571" y="193.9" width="1" height="2.9" opacity=".78"/>
<rect x="572" y="189.6" width="1" height="9.8"/>
<rect x="573" y="193.4" width="1" height="8.3" opacity=".92"/>
<rect x="574" y="196.5" width="1" height="9.8" opacity=".78"/>
<rect x="575" y="193.3" width="1" height="20.9"/>
<rect x="576" y="194.4" width="1" height="7.8" opacity=".92"/>
<rect x="577" y="189.9" width="1" height="10.8"/>
<rect x="578" y="184.8" width="1" height="8.5" opacity=".62"/>
<rect x="579" y="178.5" width="1" height="12.3"/>
<rect x="580" y="178.1" width="1" height="5.9" opacity=".78"/>
<rect x="581" y="176.0" width="1" height="5.0"/>
<rect x="582" y="174.7" width="1" height="3.7" opacity=".92"/>
<rect x="583" y="170.5" width="1" height="8.0"/>
<rect x="584" y="173.7" width="1" height="3.8" opacity=".62"/>
<rect x="585" y="174.8" width="1" height="5.0"/>
<rect x="586" y="177.0" width="1" height="4.1" opacity=".78"/>
<rect x="587" y="178.6" width="1" height="4.7" opacity=".62"/>
<rect x="588" y="177.3" width="1" height="9.2"/>
<rect x="589" y="176.0" width="1" height="7.5"/>
<rect x="590" y="175.3" width="1" height="5.2" opacity=".62"/>
<rect x="591" y="172.1" width="1" height="5.2"/>
<rect x="592" y="168.3" width="1" height="5.6" opacity=".78"/>
<rect x="593" y="163.8" width="1" height="6.4"/>
<rect x="594" y="165.2" width="1" height="2.3" opacity=".92"/>
<rect x="595" y="163.8" width="1" height="3.7"/>
<rect x="596" y="161.3" width="1" height="3.9" opacity=".62"/>
<rect x="597" y="157.0" width="1" height="5.9"/>
<rect x="598" y="157.6" width="1" height="3.0" opacity=".78"/>
<rect x="599" y="156.5" width="1" height="2.8" opacity=".62"/>
<rect x="600" y="154.6" width="1" height="4.4"/>
<rect x="601" y="156.9" width="1" height="2.9" opacity=".78"/>
<rect x="602" y="157.7" width="1" height="4.9"/>
<rect x="603" y="159.8" width="1" height="4.3" opacity=".92"/>
<rect x="604" y="162.4" width="1" height="4.4" opacity=".78"/>
<rect x="605" y="163.8" width="1" height="5.6"/>
<rect x="606" y="162.9" width="1" height="3.4" opacity=".92"/>
<rect x="607" y="160.0" width="1" height="5.0"/>
<rect x="608" y="158.4" width="1" height="4.6" opacity=".62"/>
<rect x="609" y="155.6" width="1" height="5.3" opacity=".92"/>
<rect x="610" y="148.5" width="1" height="12.9"/>
<rect x="611" y="142.3" width="1" height="8.9"/>
<rect x="612" y="140.3" width="1" height="4.9" opacity=".92"/>
<rect x="613" y="137.0" width="1" height="6.0"/>
<rect x="614" y="133.6" width="1" height="4.8" opacity=".62"/>
<rect x="615" y="131.8" width="1" height="4.2"/>
<rect x="616" y="129.6" width="1" height="5.9"/>
<rect x="617" y="133.1" width="1" height="5.6" opacity=".62"/>
<rect x="618" y="133.0" width="1" height="8.7"/>
<rect x="619" y="138.5" width="1" height="4.0" opacity=".78"/>
<rect x="620" y="139.2" width="1" height="4.8"/>
<rect x="621" y="142.3" width="1" height="4.7"/>
<rect x="622" y="142.6" width="1" height="36.6"/>
<rect x="623" y="147.0" width="1" height="31.0"/>
<rect x="624" y="161.2" width="1" height="11.0" opacity=".92"/>
<rect x="625" y="165.0" width="1" height="8.7"/>
<rect x="626" y="161.4" width="1" height="11.6"/>
<rect x="627" y="165.3" width="1" height="3.8" opacity=".92"/>
<rect x="628" y="183.1" width="1" height="3.8" opacity=".78"/>
<rect x="629" y="179.2" width="1" height="11.6"/>
<rect x="630" y="182.2" width="1" height="4.2" opacity=".92"/>
<rect x="631" y="178.5" width="1" height="11.1"/>
<rect x="632" y="173.0" width="1" height="20.3"/>
<rect x="633" y="181.2" width="1" height="9.8" opacity=".92"/>
<rect x="634" y="175.4" width="1" height="22.8"/>
<rect x="635" y="159.0" width="1" height="39.2"/>
<rect x="636" y="149.0" width="1" height="10.0"/>
<rect x="637" y="150.7" width="1" height="4.7" opacity=".78"/>
<rect x="638" y="146.0" width="1" height="11.7"/>
<rect x="639" y="148.6" width="1" height="4.9" opacity=".92"/>
<rect x="640" y="144.0" width="1" height="12.4"/>
<rect x="641" y="144.4" width="1" height="6.0" opacity=".62"/>
<rect x="642" y="142.1" width="1" height="5.4" opacity=".92"/>
<rect x="642" y="132.0" width="1" height="4.8" opacity=".7"/>
<rect x="643" y="139.9" width="1" height="4.8" opacity=".78"/>
<rect x="644" y="138.0" width="1" height="6.0"/>
<rect x="645" y="135.0" width="1" height="16.5"/>
<rect x="646" y="140.6" width="1" height="6.1" opacity=".78"/>
<rect x="647" y="136.0" width="1" height="16.8"/>
<rect x="648" y="143.2" width="1" height="8.5" opacity=".92"/>
<rect x="649" y="146.6" width="1" height="10.4"/>
<rect x="650" y="151.4" width="1" height="6.6" opacity=".62"/>
<rect x="651" y="152.8" width="1" height="9.8"/>
<rect x="652" y="151.7" width="1" height="6.3" opacity=".78"/>
<rect x="653" y="146.6" width="1" height="12.4"/>
<rect x="654" y="153.3" width="1" height="8.1" opacity=".92"/>
<rect x="655" y="152.8" width="1" height="13.6"/>
<rect x="656" y="162.3" width="1" height="9.1" opacity=".62"/>
<rect x="657" y="163.8" width="1" height="11.2"/>
<rect x="658" y="167.7" width="1" height="3.7" opacity=".78"/>
<rect x="659" y="164.4" width="1" height="10.6"/>
<rect x="660" y="169.1" width="1" height="4.3" opacity=".92"/>
<rect x="661" y="170.0" width="1" height="6.5"/>
<rect x="662" y="172.4" width="1" height="6.4" opacity=".62"/>
<rect x="663" y="175.0" width="1" height="9.0"/>
<rect x="664" y="180.5" width="1" height="9.6" opacity=".78"/>
<rect x="665" y="181.5" width="1" height="14.3"/>
<rect x="666" y="186.8" width="1" height="3.8" opacity=".92"/>
<rect x="667" y="183.5" width="1" height="11.9"/>
<rect x="668" y="190.5" width="1" height="10.3" opacity=".62"/>
<rect x="669" y="189.0" width="1" height="21.5"/>
<rect x="670" y="187.8" width="1" height="10.7" opacity=".78"/>
<rect x="671" y="183.5" width="1" height="8.5"/>
<rect x="672" y="181.1" width="1" height="6.0" opacity=".92"/>
<rect x="673" y="176.0" width="1" height="7.7"/>
<rect x="674" y="174.4" width="1" height="5.9" opacity=".62"/>
<rect x="675" y="171.0" width="1" height="5.9" opacity=".92"/>
<rect x="675" y="151.0" width="1" height="26.3" opacity=".7"/>
<rect x="676" y="167.6" width="1" height="5.9" opacity=".78"/>
<rect x="677" y="162.0" width="1" height="8.0"/>
<rect x="678" y="163.9" width="1" height="3.0" opacity=".92"/>
<rect x="679" y="163.4" width="1" height="2.9" opacity=".78"/>
<rect x="680" y="160.8" width="1" height="7.2"/>
<rect x="681" y="158.9" width="1" height="5.2" opacity=".92"/>
<rect x="682" y="156.4" width="1" height="5.7" opacity=".78"/>
<rect x="683" y="151.5" width="1" height="11.1"/>
<rect x="684" y="156.4" width="1" height="5.6" opacity=".92"/>
<rect x="685" y="155.2" width="1" height="11.1"/>
<rect x="686" y="157.5" width="1" height="4.4" opacity=".62"/>
<rect x="687" y="153.4" width="1" height="10.4"/>
<rect x="688" y="157.4" width="1" height="6.3" opacity=".78"/>
<rect x="689" y="156.4" width="1" height="13.6"/>
<rect x="690" y="163.0" width="1" height="8.3" opacity=".92"/>
<rect x="691" y="167.7" width="1" height="7.7" opacity=".78"/>
<rect x="691" y="168.8" width="1" height="23.9" opacity=".7"/>
<rect x="692" y="172.4" width="1" height="7.1" opacity=".62"/>
<rect x="693" y="175.0" width="1" height="7.2"/>
<rect x="694" y="176.3" width="1" height="2.9" opacity=".78"/>
<rect x="695" y="175.8" width="1" height="2.8" opacity=".62"/>
<rect x="695" y="177.3" width="1" height="12.3" opacity=".7"/>
<rect x="696" y="175.2" width="1" height="2.7" opacity=".92"/>
<rect x="697" y="172.6" width="1" height="6.4"/>
<rect x="698" y="168.4" width="1" height="6.7" opacity=".62"/>
<rect x="699" y="164.0" width="1" height="10.0"/>
<rect x="700" y="160.0" width="1" height="7.0" opacity=".78"/>
<rect x="701" y="157.5" width="1" height="7.8"/>
<rect x="702" y="162.2" width="1" height="4.2" opacity=".92"/>
<rect x="703" y="162.0" width="1" height="6.6"/>
<rect x="704" y="159.4" width="1" height="8.0"/>
<rect x="705" y="161.8" width="1" height="2.8" opacity=".92"/>
<rect x="706" y="161.6" width="1" height="2.6" opacity=".78"/>
<rect x="707" y="159.4" width="1" height="6.6"/>
<rect x="708" y="160.4" width="1" height="3.1" opacity=".92"/>
<rect x="709" y="157.0" width="1" height="8.5"/>
<rect x="710" y="156.1" width="1" height="5.9" opacity=".62"/>
<rect x="711" y="150.8" width="1" height="11.0"/>
<rect x="712" y="151.7" width="1" height="5.1" opacity=".78"/>
<rect x="713" y="149.0" width="1" height="8.0"/>
<rect x="714" y="153.2" width="1" height="8.6"/>
<rect x="715" y="157.3" width="1" height="4.6" opacity=".78"/>
<rect x="716" y="154.6" width="1" height="9.1"/>
<rect x="717" y="149.3" width="1" height="7.6" opacity=".92"/>
<rect x="718" y="146.5" width="1" height="8.0"/>
<rect x="719" y="146.4" width="1" height="3.6" opacity=".62"/>
<rect x="720" y="144.6" width="1" height="5.4"/>
<rect x="721" y="144.6" width="1" height="2.6" opacity=".78"/>
<rect x="722" y="142.2" width="1" height="5.5"/>
<rect x="723" y="139.4" width="1" height="4.9" opacity=".92"/>
<rect x="724" y="135.4" width="1" height="8.0"/>
<rect x="725" y="138.2" width="1" height="3.2" opacity=".62"/>
<rect x="726" y="135.4" width="1" height="9.2"/>
<rect x="727" y="140.0" width="1" height="4.2" opacity=".78"/>
<rect x="728" y="139.7" width="1" height="6.8"/>
<rect x="729" y="141.9" width="1" height="2.0" opacity=".92"/>
<rect x="730" y="140.3" width="1" height="4.9"/>
<rect x="731" y="141.8" width="1" height="1.8" opacity=".62"/>
<rect x="732" y="139.7" width="1" height="6.1"/>
<rect x="733" y="141.4" width="1" height="2.1" opacity=".78"/>
<rect x="734" y="139.7" width="1" height="4.9"/>
<rect x="735" y="140.9" width="1" height="2.1" opacity=".92"/>
<rect x="736" y="138.5" width="1" height="6.1"/>
<rect x="737" y="141.2" width="1" height="4.8" opacity=".62"/>
<rect x="738" y="142.8" width="1" height="5.8"/>
<rect x="739" y="146.5" width="1" height="6.7"/>
<rect x="740" y="146.0" width="1" height="4.3" opacity=".62"/>
<rect x="741" y="142.5" width="1" height="5.0"/>
<rect x="742" y="137.0" width="1" height="7.4"/>
<rect x="743" y="134.2" width="1" height="9.8"/>
<rect x="5.63" y="341.2" width="1.3" height="7.6" shape-rendering="auto" opacity=".85"/>
<rect x="6.83" y="331.8" width="1.3" height="5.3" shape-rendering="auto" opacity=".85"/>
<rect x="9.03" y="330.0" width="1.3" height="6.1" shape-rendering="auto" opacity=".85"/>
<rect x="11.63" y="337.0" width="1.3" height="6.5" shape-rendering="auto" opacity=".85"/>
<rect x="14.73" y="331.7" width="1.3" height="5.5" shape-rendering="auto" opacity=".85"/>
<rect x="16.73" y="332.7" width="1.3" height="10.6" shape-rendering="auto" opacity=".85"/>
<rect x="17.83" y="339.3" width="1.3" height="8.4" shape-rendering="auto" opacity=".85"/>
<rect x="18.83" y="342.0" width="1.3" height="12.5" shape-rendering="auto" opacity=".85"/>
<rect x="19.83" y="341.0" width="1.3" height="9.5" shape-rendering="auto" opacity=".85"/>
<rect x="21.83" y="346.7" width="1.3" height="10.6" shape-rendering="auto" opacity=".85"/>
<rect x="23.93" y="357.2" width="1.3" height="14.1" shape-rendering="auto" opacity=".85"/>
<rect x="25.83" y="353.2" width="1.3" height="7.6" shape-rendering="auto" opacity=".85"/>
<rect x="27.53" y="340.2" width="1.3" height="11.1" shape-rendering="auto" opacity=".85"/>
<rect x="29.03" y="351.2" width="1.3" height="7.6" shape-rendering="auto" opacity=".85"/>
<rect x="31.13" y="356.6" width="1.3" height="9.9" shape-rendering="auto" opacity=".85"/>
<rect x="33.63" y="356.4" width="1.3" height="13.1" shape-rendering="auto" opacity=".85"/>
<rect x="35.23" y="377.1" width="1.3" height="19.5" shape-rendering="auto" opacity=".85"/>
<rect x="36.83" y="378.5" width="1.3" height="16.0" shape-rendering="auto" opacity=".85"/>
<rect x="38.33" y="382.4" width="1.3" height="10.9" shape-rendering="auto" opacity=".85"/>
<rect x="40.33" y="376.4" width="1.3" height="5.7" shape-rendering="auto" opacity=".85"/>
<rect x="42.83" y="367.8" width="1.3" height="12.8" shape-rendering="auto" opacity=".85"/>
<rect x="45.93" y="366.8" width="1.3" height="4.9" shape-rendering="auto" opacity=".85"/>
<rect x="47.53" y="353.6" width="1.3" height="8.1" shape-rendering="auto" opacity=".85"/>
<rect x="49.53" y="349.3" width="1.3" height="8.4" shape-rendering="auto" opacity=".85"/>
<rect x="52.63" y="335.9" width="1.3" height="16.5" shape-rendering="auto" opacity=".85"/>
<rect x="55.13" y="333.2" width="1.3" height="5.5" shape-rendering="auto" opacity=".85"/>
<rect x="58.73" y="332.3" width="1.3" height="6.2" shape-rendering="auto" opacity=".85"/>
<rect x="60.83" y="335.9" width="1.3" height="5.7" shape-rendering="auto" opacity=".85"/>
<rect x="62.83" y="331.2" width="1.3" height="12.5" shape-rendering="auto" opacity=".85"/>
<rect x="64.93" y="331.4" width="1.3" height="8.7" shape-rendering="auto" opacity=".85"/>
<rect x="66.93" y="323.8" width="1.3" height="5.3" shape-rendering="auto" opacity=".85"/>
<rect x="67.93" y="319.0" width="1.3" height="6.1" shape-rendering="auto" opacity=".85"/>
<rect x="68.83" y="313.0" width="1.3" height="6.1" shape-rendering="auto" opacity=".85"/>
<rect x="70.33" y="305.1" width="1.3" height="6.8" shape-rendering="auto" opacity=".85"/>
<rect x="71.83" y="299.0" width="1.3" height="6.1" shape-rendering="auto" opacity=".85"/>
<rect x="72.73" y="293.8" width="1.3" height="5.3" shape-rendering="auto" opacity=".85"/>
<rect x="75.13" y="287.7" width="1.3" height="5.5" shape-rendering="auto" opacity=".85"/>
<rect x="78.23" y="277.9" width="1.3" height="5.5" shape-rendering="auto" opacity=".85"/>
<rect x="80.73" y="271.7" width="1.3" height="5.5" shape-rendering="auto" opacity=".85"/>
<rect x="83.73" y="260.4" width="1.3" height="9.0" shape-rendering="auto" opacity=".85"/>
<rect x="85.23" y="263.9" width="1.3" height="11.8" shape-rendering="auto" opacity=".85"/>
<rect x="86.83" y="256.5" width="1.3" height="7.0" shape-rendering="auto" opacity=".85"/>
<rect x="89.33" y="249.8" width="1.3" height="11.2" shape-rendering="auto" opacity=".85"/>
<rect x="92.33" y="249.1" width="1.3" height="6.8" shape-rendering="auto" opacity=".85"/>
<rect x="96.08" y="246.2" width="1.3" height="6.3" shape-rendering="auto" opacity=".85"/>
<rect x="97.93" y="252.2" width="1.3" height="7.6" shape-rendering="auto" opacity=".85"/>
<rect x="99.13" y="259.8" width="1.3" height="8.0" shape-rendering="auto" opacity=".85"/>
<rect x="102.23" y="259.7" width="1.3" height="7.4" shape-rendering="auto" opacity=".85"/>
<rect x="104.03" y="266.4" width="1.3" height="11.2" shape-rendering="auto" opacity=".85"/>
<rect x="106.13" y="278.5" width="1.3" height="9.3" shape-rendering="auto" opacity=".85"/>
<rect x="108.33" y="269.8" width="1.3" height="9.3" shape-rendering="auto" opacity=".85"/>
<rect x="110.43" y="252.2" width="1.3" height="13.9" shape-rendering="auto" opacity=".85"/>
<rect x="112.73" y="263.5" width="1.3" height="9.5" shape-rendering="auto" opacity=".85"/>
<rect x="115.73" y="276.7" width="1.3" height="6.5" shape-rendering="auto" opacity=".85"/>
<rect x="118.43" y="278.8" width="1.3" height="11.6" shape-rendering="auto" opacity=".85"/>
<rect x="120.03" y="272.2" width="1.3" height="5.0" shape-rendering="auto" opacity=".85"/>
<rect x="122.53" y="260.4" width="1.3" height="9.0" shape-rendering="auto" opacity=".85"/>
<rect x="124.73" y="254.0" width="1.3" height="14.5" shape-rendering="auto" opacity=".85"/>
<rect x="126.63" y="271.8" width="1.3" height="14.5" shape-rendering="auto" opacity=".85"/>
<rect x="128.73" y="269.9" width="1.3" height="10.3" shape-rendering="auto" opacity=".85"/>
<rect x="131.13" y="258.8" width="1.3" height="10.3" shape-rendering="auto" opacity=".85"/>
<rect x="133.03" y="258.1" width="1.3" height="13.5" shape-rendering="auto" opacity=".85"/>
<rect x="135.43" y="263.8" width="1.3" height="11.4" shape-rendering="auto" opacity=".85"/>
<rect x="136.93" y="236.7" width="1.3" height="17.2" shape-rendering="auto" opacity=".85"/>
<rect x="138.93" y="227.7" width="1.3" height="5.5" shape-rendering="auto" opacity=".85"/>
<rect x="140.13" y="222.6" width="1.3" height="8.0" shape-rendering="auto" opacity=".85"/>
<rect x="142.23" y="232.7" width="1.3" height="5.5" shape-rendering="auto" opacity=".85"/>
<rect x="144.73" y="232.0" width="1.3" height="9.3" shape-rendering="auto" opacity=".85"/>
<rect x="146.83" y="231.9" width="1.3" height="12.2" shape-rendering="auto" opacity=".85"/>
<rect x="149.03" y="224.3" width="1.3" height="8.4" shape-rendering="auto" opacity=".85"/>
<rect x="150.83" y="224.1" width="1.3" height="7.1" shape-rendering="auto" opacity=".85"/>
<rect x="152.73" y="216.0" width="1.3" height="9.3" shape-rendering="auto" opacity=".85"/>
<rect x="154.53" y="208.6" width="1.3" height="5.1" shape-rendering="auto" opacity=".85"/>
<rect x="156.63" y="201.9" width="1.3" height="5.6" shape-rendering="auto" opacity=".85"/>
<rect x="158.83" y="197.7" width="1.3" height="6.1" shape-rendering="auto" opacity=".85"/>
<rect x="161.33" y="192.4" width="1.3" height="7.4" shape-rendering="auto" opacity=".85"/>
<rect x="163.13" y="194.3" width="1.3" height="4.7" shape-rendering="auto" opacity=".85"/>
<rect x="165.63" y="194.6" width="1.3" height="6.1" shape-rendering="auto" opacity=".85"/>
<rect x="167.23" y="199.9" width="1.3" height="8.9" shape-rendering="auto" opacity=".85"/>
<rect x="169.33" y="200.6" width="1.3" height="5.1" shape-rendering="auto" opacity=".85"/>
<rect x="171.13" y="195.8" width="1.3" height="6.6" shape-rendering="auto" opacity=".85"/>
<rect x="172.33" y="178.7" width="1.3" height="12.2" shape-rendering="auto" opacity=".85"/>
<rect x="173.43" y="172.7" width="1.3" height="4.6" shape-rendering="auto" opacity=".85"/>
<rect x="174.93" y="156.0" width="1.3" height="12.7" shape-rendering="auto" opacity=".85"/>
<rect x="176.53" y="160.8" width="1.3" height="7.4" shape-rendering="auto" opacity=".85"/>
<rect x="177.83" y="162.0" width="1.3" height="7.5" shape-rendering="auto" opacity=".85"/>
<rect x="179.63" y="171.4" width="1.3" height="4.6" shape-rendering="auto" opacity=".85"/>
<rect x="181.43" y="173.2" width="1.3" height="7.4" shape-rendering="auto" opacity=".85"/>
<rect x="183.33" y="175.9" width="1.3" height="9.3" shape-rendering="auto" opacity=".85"/>
<rect x="185.53" y="175.1" width="1.3" height="13.2" shape-rendering="auto" opacity=".85"/>
<rect x="187.03" y="183.0" width="1.3" height="7.4" shape-rendering="auto" opacity=".85"/>
<rect x="188.83" y="180.4" width="1.3" height="10.7" shape-rendering="auto" opacity=".85"/>
<rect x="189.63" y="190.1" width="1.3" height="8.9" shape-rendering="auto" opacity=".85"/>
<rect x="191.43" y="191.0" width="1.3" height="6.5" shape-rendering="auto" opacity=".85"/>
<rect x="193.33" y="196.1" width="1.3" height="8.5" shape-rendering="auto" opacity=".85"/>
<rect x="195.13" y="205.0" width="1.3" height="9.3" shape-rendering="auto" opacity=".85"/>
<rect x="197.03" y="201.5" width="1.3" height="7.0" shape-rendering="auto" opacity=".85"/>
<rect x="198.83" y="190.7" width="1.3" height="4.6" shape-rendering="auto" opacity=".85"/>
<rect x="200.53" y="181.6" width="1.3" height="7.2" shape-rendering="auto" opacity=".85"/>
<rect x="201.73" y="173.2" width="1.3" height="7.4" shape-rendering="auto" opacity=".85"/>
<rect x="203.83" y="169.1" width="1.3" height="5.6" shape-rendering="auto" opacity=".85"/>
<rect x="205.43" y="171.4" width="1.3" height="4.6" shape-rendering="auto" opacity=".85"/>
<rect x="207.33" y="176.9" width="1.3" height="8.4" shape-rendering="auto" opacity=".85"/>
<rect x="209.73" y="170.6" width="1.3" height="11.7" shape-rendering="auto" opacity=".85"/>
<rect x="211.63" y="176.1" width="1.3" height="19.4" shape-rendering="auto" opacity=".85"/>
<rect x="213.03" y="181.9" width="1.3" height="12.2" shape-rendering="auto" opacity=".85"/>
<rect x="214.03" y="176.8" width="1.3" height="7.4" shape-rendering="auto" opacity=".85"/>
<rect x="215.63" y="165.7" width="1.3" height="7.5" shape-rendering="auto" opacity=".85"/>
<rect x="217.73" y="161.8" width="1.3" height="6.5" shape-rendering="auto" opacity=".85"/>
<rect x="220.23" y="165.7" width="1.3" height="7.5" shape-rendering="auto" opacity=".85"/>
<rect x="222.33" y="159.0" width="1.3" height="7.9" shape-rendering="auto" opacity=".85"/>
<rect x="224.53" y="152.9" width="1.3" height="4.7" shape-rendering="auto" opacity=".85"/>
<rect x="226.33" y="150.6" width="1.3" height="5.1" shape-rendering="auto" opacity=".85"/>
<rect x="228.03" y="146.9" width="1.3" height="5.7" shape-rendering="auto" opacity=".85"/>
<rect x="230.03" y="148.0" width="1.3" height="4.7" shape-rendering="auto" opacity=".85"/>
<rect x="231.93" y="148.8" width="1.3" height="5.1" shape-rendering="auto" opacity=".85"/>
<rect x="233.13" y="151.0" width="1.3" height="7.4" shape-rendering="auto" opacity=".85"/>
<rect x="235.03" y="159.1" width="1.3" height="4.6" shape-rendering="auto" opacity=".85"/>
<rect x="236.83" y="164.0" width="1.3" height="4.6" shape-rendering="auto" opacity=".85"/>
<rect x="238.73" y="167.9" width="1.3" height="5.6" shape-rendering="auto" opacity=".85"/>
<rect x="240.53" y="172.9" width="1.3" height="5.5" shape-rendering="auto" opacity=".85"/>
<rect x="242.03" y="165.9" width="1.3" height="5.7" shape-rendering="auto" opacity=".85"/>
<rect x="243.63" y="177.4" width="1.3" height="11.7" shape-rendering="auto" opacity=".85"/>
<rect x="244.83" y="206.0" width="1.3" height="18.7" shape-rendering="auto" opacity=".85"/>
<rect x="246.73" y="206.6" width="1.3" height="11.2" shape-rendering="auto" opacity=".85"/>
<rect x="248.53" y="207.0" width="1.3" height="6.6" shape-rendering="auto" opacity=".85"/>
<rect x="250.33" y="204.8" width="1.3" height="11.7" shape-rendering="auto" opacity=".85"/>
<rect x="252.23" y="209.8" width="1.3" height="15.9" shape-rendering="auto" opacity=".85"/>
<rect x="254.73" y="214.8" width="1.3" height="8.4" shape-rendering="auto" opacity=".85"/>
<rect x="257.13" y="211.6" width="1.3" height="11.2" shape-rendering="auto" opacity=".85"/>
<rect x="259.03" y="211.4" width="1.3" height="10.3" shape-rendering="auto" opacity=".85"/>
<rect x="261.23" y="208.5" width="1.3" height="7.4" shape-rendering="auto" opacity=".85"/>
<rect x="262.73" y="209.8" width="1.3" height="8.4" shape-rendering="auto" opacity=".85"/>
<rect x="264.53" y="219.2" width="1.3" height="14.1" shape-rendering="auto" opacity=".85"/>
<rect x="266.63" y="228.6" width="1.3" height="9.9" shape-rendering="auto" opacity=".85"/>
<rect x="268.83" y="224.2" width="1.3" height="5.6" shape-rendering="auto" opacity=".85"/>
<rect x="270.73" y="217.2" width="1.3" height="7.4" shape-rendering="auto" opacity=".85"/>
<rect x="272.33" y="205.9" width="1.3" height="10.8" shape-rendering="auto" opacity=".85"/>
<rect x="274.33" y="211.9" width="1.3" height="5.6" shape-rendering="auto" opacity=".85"/>
<rect x="276.23" y="212.6" width="1.3" height="6.1" shape-rendering="auto" opacity=".85"/>
<rect x="277.73" y="220.6" width="1.3" height="6.5" shape-rendering="auto" opacity=".85"/>
<rect x="279.33" y="225.7" width="1.3" height="7.5" shape-rendering="auto" opacity=".85"/>
<rect x="281.13" y="234.6" width="1.3" height="10.4" shape-rendering="auto" opacity=".85"/>
<rect x="282.63" y="241.2" width="1.3" height="12.3" shape-rendering="auto" opacity=".85"/>
<rect x="284.23" y="231.9" width="1.3" height="7.4" shape-rendering="auto" opacity=".85"/>
<rect x="286.13" y="230.3" width="1.3" height="5.6" shape-rendering="auto" opacity=".85"/>
<rect x="288.33" y="224.2" width="1.3" height="5.6" shape-rendering="auto" opacity=".85"/>
<rect x="289.13" y="214.7" width="1.3" height="4.6" shape-rendering="auto" opacity=".85"/>
<rect x="291.63" y="214.4" width="1.3" height="5.5" shape-rendering="auto" opacity=".85"/>
<rect x="293.83" y="208.8" width="1.3" height="9.3" shape-rendering="auto" opacity=".85"/>
<rect x="296.13" y="211.9" width="1.3" height="9.3" shape-rendering="auto" opacity=".85"/>
<rect x="297.73" y="224.0" width="1.3" height="4.6" shape-rendering="auto" opacity=".85"/>
<rect x="299.63" y="227.7" width="1.3" height="4.6" shape-rendering="auto" opacity=".85"/>
<rect x="300.83" y="235.0" width="1.3" height="19.2" shape-rendering="auto" opacity=".85"/>
<rect x="302.13" y="254.8" width="1.3" height="14.9" shape-rendering="auto" opacity=".85"/>
<rect x="303.93" y="265.6" width="1.3" height="13.5" shape-rendering="auto" opacity=".85"/>
<rect x="305.83" y="263.5" width="1.3" height="8.4" shape-rendering="auto" opacity=".85"/>
<rect x="307.63" y="263.8" width="1.3" height="6.1" shape-rendering="auto" opacity=".85"/>
<rect x="308.83" y="266.3" width="1.3" height="10.3" shape-rendering="auto" opacity=".85"/>
<rect x="310.33" y="262.8" width="1.3" height="7.9" shape-rendering="auto" opacity=".85"/>
<rect x="311.93" y="268.8" width="1.3" height="11.4" shape-rendering="auto" opacity=".85"/>
<rect x="313.73" y="282.2" width="1.3" height="9.3" shape-rendering="auto" opacity=".85"/>
<rect x="315.63" y="277.1" width="1.3" height="8.4" shape-rendering="auto" opacity=".85"/>
<rect x="318.43" y="269.9" width="1.3" height="9.3" shape-rendering="auto" opacity=".85"/>
<rect x="319.93" y="277.0" width="1.3" height="15.9" shape-rendering="auto" opacity=".85"/>
<rect x="321.73" y="280.1" width="1.3" height="12.2" shape-rendering="auto" opacity=".85"/>
<rect x="323.83" y="281.4" width="1.3" height="4.6" shape-rendering="auto" opacity=".85"/>
<rect x="326.13" y="278.2" width="1.3" height="4.1" shape-rendering="auto" opacity=".85"/>
<rect x="329.13" y="270.1" width="1.3" height="7.0" shape-rendering="auto" opacity=".85"/>
<rect x="331.63" y="275.4" width="1.3" height="5.7" shape-rendering="auto" opacity=".85"/>
<rect x="333.43" y="282.9" width="1.3" height="13.9" shape-rendering="auto" opacity=".85"/>
<rect x="335.33" y="282.6" width="1.3" height="12.2" shape-rendering="auto" opacity=".85"/>
<rect x="336.93" y="277.9" width="1.3" height="5.6" shape-rendering="auto" opacity=".85"/>
<rect x="338.63" y="262.4" width="1.3" height="12.6" shape-rendering="auto" opacity=".85"/>
<rect x="340.23" y="253.4" width="1.3" height="6.1" shape-rendering="auto" opacity=".85"/>
<rect x="342.33" y="250.5" width="1.3" height="11.6" shape-rendering="auto" opacity=".85"/>
<rect x="344.53" y="246.4" width="1.3" height="5.2" shape-rendering="auto" opacity=".85"/>
<rect x="345.73" y="243.5" width="1.3" height="7.0" shape-rendering="auto" opacity=".85"/>
<rect x="347.03" y="246.2" width="1.3" height="7.4" shape-rendering="auto" opacity=".85"/>
<rect x="349.43" y="251.4" width="1.3" height="16.8" shape-rendering="auto" opacity=".85"/>
<rect x="351.33" y="252.2" width="1.3" height="14.0" shape-rendering="auto" opacity=".85"/>
<rect x="352.73" y="240.1" width="1.3" height="8.6" shape-rendering="auto" opacity=".85"/>
<rect x="354.33" y="230.3" width="1.3" height="5.6" shape-rendering="auto" opacity=".85"/>
<rect x="356.23" y="229.3" width="1.3" height="6.7" shape-rendering="auto" opacity=".85"/>
<rect x="358.03" y="229.8" width="1.3" height="6.1" shape-rendering="auto" opacity=".85"/>
<rect x="360.53" y="230.4" width="1.3" height="6.1" shape-rendering="auto" opacity=".85"/>
<rect x="362.53" y="220.7" width="1.3" height="8.6" shape-rendering="auto" opacity=".85"/>
<rect x="364.53" y="215.7" width="1.3" height="4.6" shape-rendering="auto" opacity=".85"/>
<rect x="366.33" y="208.2" width="1.3" height="2.8" shape-rendering="auto" opacity=".85"/>
<rect x="368.43" y="198.6" width="1.3" height="7.4" shape-rendering="auto" opacity=".85"/>
<rect x="370.33" y="204.0" width="1.3" height="6.5" shape-rendering="auto" opacity=".85"/>
<rect x="372.83" y="205.8" width="1.3" height="6.1" shape-rendering="auto" opacity=".85"/>
<rect x="374.63" y="205.3" width="1.3" height="8.1" shape-rendering="auto" opacity=".85"/>
<rect x="377.13" y="211.9" width="1.3" height="5.5" shape-rendering="auto" opacity=".85"/>
<rect x="379.53" y="219.5" width="1.3" height="7.4" shape-rendering="auto" opacity=".85"/>
<rect x="381.33" y="226.6" width="1.3" height="5.5" shape-rendering="auto" opacity=".85"/>
<rect x="383.23" y="231.4" width="1.3" height="5.2" shape-rendering="auto" opacity=".85"/>
<rect x="384.43" y="217.6" width="1.3" height="3.8" shape-rendering="auto" opacity=".85"/>
<rect x="386.53" y="210.9" width="1.3" height="7.4" shape-rendering="auto" opacity=".85"/>
<rect x="388.73" y="210.9" width="1.3" height="7.4" shape-rendering="auto" opacity=".85"/>
<rect x="390.23" y="215.9" width="1.3" height="8.4" shape-rendering="auto" opacity=".85"/>
<rect x="391.83" y="216.5" width="1.3" height="4.7" shape-rendering="auto" opacity=".85"/>
<rect x="393.73" y="205.2" width="1.3" height="7.6" shape-rendering="auto" opacity=".85"/>
<rect x="395.53" y="209.2" width="1.3" height="4.6" shape-rendering="auto" opacity=".85"/>
<rect x="397.33" y="213.7" width="1.3" height="5.5" shape-rendering="auto" opacity=".85"/>
<rect x="399.83" y="212.5" width="1.3" height="6.1" shape-rendering="auto" opacity=".85"/>
<rect x="401.73" y="219.6" width="1.3" height="8.4" shape-rendering="auto" opacity=".85"/>
<rect x="403.53" y="225.3" width="1.3" height="5.6" shape-rendering="auto" opacity=".85"/>
<rect x="405.33" y="219.5" width="1.3" height="7.4" shape-rendering="auto" opacity=".85"/>
<rect x="407.23" y="212.0" width="1.3" height="6.5" shape-rendering="auto" opacity=".85"/>
<rect x="409.73" y="209.2" width="1.3" height="4.6" shape-rendering="auto" opacity=".85"/>
<rect x="412.13" y="204.8" width="1.3" height="4.8" shape-rendering="auto" opacity=".85"/>
<rect x="414.63" y="206.0" width="1.3" height="7.4" shape-rendering="auto" opacity=".85"/>
<rect x="417.73" y="204.1" width="1.3" height="6.8" shape-rendering="auto" opacity=".85"/>
<rect x="419.53" y="205.5" width="1.3" height="4.2" shape-rendering="auto" opacity=".85"/>
<rect x="421.33" y="207.5" width="1.3" height="5.6" shape-rendering="auto" opacity=".85"/>
<rect x="422.03" y="218.9" width="1.3" height="7.4" shape-rendering="auto" opacity=".85"/>
<rect x="425.03" y="221.4" width="1.3" height="11.8" shape-rendering="auto" opacity=".85"/>
<rect x="427.53" y="215.7" width="1.3" height="7.0" shape-rendering="auto" opacity=".85"/>
<rect x="429.33" y="215.3" width="1.3" height="4.7" shape-rendering="auto" opacity=".85"/>
<rect x="431.83" y="219.4" width="1.3" height="7.0" shape-rendering="auto" opacity=".85"/>
<rect x="434.33" y="216.5" width="1.3" height="4.7" shape-rendering="auto" opacity=".85"/>
<rect x="436.73" y="217.7" width="1.3" height="4.7" shape-rendering="auto" opacity=".85"/>
<rect x="438.63" y="216.3" width="1.3" height="7.0" shape-rendering="auto" opacity=".85"/>
<rect x="440.43" y="221.5" width="1.3" height="4.7" shape-rendering="auto" opacity=".85"/>
<rect x="441.93" y="223.8" width="1.3" height="11.2" shape-rendering="auto" opacity=".85"/>
<rect x="443.53" y="229.9" width="1.3" height="12.2" shape-rendering="auto" opacity=".85"/>
<rect x="445.33" y="235.7" width="1.3" height="8.9" shape-rendering="auto" opacity=".85"/>
<rect x="447.23" y="227.3" width="1.3" height="10.3" shape-rendering="auto" opacity=".85"/>
<rect x="449.03" y="227.7" width="1.3" height="4.6" shape-rendering="auto" opacity=".85"/>
<rect x="450.93" y="213.8" width="1.3" height="11.4" shape-rendering="auto" opacity=".85"/>
<rect x="452.73" y="203.8" width="1.3" height="13.5" shape-rendering="auto" opacity=".85"/>
<rect x="454.13" y="188.8" width="1.3" height="11.2" shape-rendering="auto" opacity=".85"/>
<rect x="455.93" y="183.7" width="1.3" height="7.0" shape-rendering="auto" opacity=".85"/>
<rect x="457.83" y="186.6" width="1.3" height="5.5" shape-rendering="auto" opacity=".85"/>
<rect x="459.63" y="180.4" width="1.3" height="5.7" shape-rendering="auto" opacity=".85"/>
<rect x="461.43" y="173.1" width="1.3" height="6.7" shape-rendering="auto" opacity=".85"/>
<rect x="463.33" y="166.9" width="1.3" height="5.6" shape-rendering="auto" opacity=".85"/>
<rect x="464.53" y="165.3" width="1.3" height="4.9" shape-rendering="auto" opacity=".85"/>
<rect x="465.83" y="166.8" width="1.3" height="5.2" shape-rendering="auto" opacity=".85"/>
<rect x="468.53" y="207.4" width="1.3" height="21.3" shape-rendering="auto" opacity=".85"/>
<rect x="470.23" y="231.3" width="1.3" height="42.9" shape-rendering="auto" opacity=".85"/>
<rect x="471.93" y="229.4" width="1.3" height="14.9" shape-rendering="auto" opacity=".85"/>
<rect x="473.53" y="226.9" width="1.3" height="7.4" shape-rendering="auto" opacity=".85"/>
<rect x="475.33" y="224.5" width="1.3" height="8.4" shape-rendering="auto" opacity=".85"/>
<rect x="476.63" y="234.6" width="1.3" height="10.3" shape-rendering="auto" opacity=".85"/>
<rect x="479.13" y="234.8" width="1.3" height="7.1" shape-rendering="auto" opacity=".85"/>
<rect x="480.93" y="244.2" width="1.3" height="7.4" shape-rendering="auto" opacity=".85"/>
<rect x="482.53" y="242.7" width="1.3" height="21.9" shape-rendering="auto" opacity=".85"/>
<rect x="484.03" y="239.5" width="1.3" height="9.3" shape-rendering="auto" opacity=".85"/>
<rect x="486.43" y="239.5" width="1.3" height="13.5" shape-rendering="auto" opacity=".85"/>
<rect x="488.33" y="247.6" width="1.3" height="6.5" shape-rendering="auto" opacity=".85"/>
<rect x="490.13" y="243.7" width="1.3" height="4.6" shape-rendering="auto" opacity=".85"/>
<rect x="492.63" y="248.9" width="1.3" height="7.0" shape-rendering="auto" opacity=".85"/>
<rect x="495.13" y="247.2" width="1.3" height="7.4" shape-rendering="auto" opacity=".85"/>
<rect x="497.53" y="244.9" width="1.3" height="8.9" shape-rendering="auto" opacity=".85"/>
<rect x="500.63" y="242.4" width="1.3" height="9.0" shape-rendering="auto" opacity=".85"/>
<rect x="502.43" y="250.0" width="1.3" height="6.6" shape-rendering="auto" opacity=".85"/>
<rect x="504.93" y="259.0" width="1.3" height="8.4" shape-rendering="auto" opacity=".85"/>
<rect x="507.33" y="259.3" width="1.3" height="6.1" shape-rendering="auto" opacity=".85"/>
<rect x="510.43" y="259.0" width="1.3" height="8.4" shape-rendering="auto" opacity=".85"/>
<rect x="511.73" y="255.2" width="1.3" height="7.4" shape-rendering="auto" opacity=".85"/>
<rect x="513.33" y="247.6" width="1.3" height="6.5" shape-rendering="auto" opacity=".85"/>
<rect x="514.73" y="228.2" width="1.3" height="7.4" shape-rendering="auto" opacity=".85"/>
<rect x="516.63" y="227.1" width="1.3" height="5.1" shape-rendering="auto" opacity=".85"/>
<rect x="518.43" y="228.5" width="1.3" height="9.3" shape-rendering="auto" opacity=".85"/>
<rect x="520.93" y="231.9" width="1.3" height="8.4" shape-rendering="auto" opacity=".85"/>
<rect x="523.33" y="241.5" width="1.3" height="6.5" shape-rendering="auto" opacity=".85"/>
<rect x="525.83" y="244.2" width="1.3" height="7.4" shape-rendering="auto" opacity=".85"/>
<rect x="528.33" y="250.2" width="1.3" height="7.6" shape-rendering="auto" opacity=".85"/>
<rect x="530.73" y="258.6" width="1.3" height="5.5" shape-rendering="auto" opacity=".85"/>
<rect x="533.23" y="261.8" width="1.3" height="11.4" shape-rendering="auto" opacity=".85"/>
<rect x="535.03" y="256.7" width="1.3" height="9.7" shape-rendering="auto" opacity=".85"/>
<rect x="536.93" y="244.6" width="1.3" height="10.2" shape-rendering="auto" opacity=".85"/>
<rect x="538.33" y="240.7" width="1.3" height="4.6" shape-rendering="auto" opacity=".85"/>
<rect x="539.63" y="233.7" width="1.3" height="4.7" shape-rendering="auto" opacity=".85"/>
<rect x="540.83" y="229.1" width="1.3" height="5.5" shape-rendering="auto" opacity=".85"/>
<rect x="542.43" y="234.6" width="1.3" height="5.5" shape-rendering="auto" opacity=".85"/>
<rect x="544.03" y="254.6" width="1.3" height="11.6" shape-rendering="auto" opacity=".85"/>
<rect x="546.53" y="248.1" width="1.3" height="9.4" shape-rendering="auto" opacity=".85"/>
<rect x="549.23" y="255.5" width="1.3" height="9.3" shape-rendering="auto" opacity=".85"/>
<rect x="551.93" y="264.2" width="1.3" height="2.8" shape-rendering="auto" opacity=".85"/>
<rect x="553.53" y="244.1" width="1.3" height="3.8" shape-rendering="auto" opacity=".85"/>
<rect x="555.33" y="245.9" width="1.3" height="7.0" shape-rendering="auto" opacity=".85"/>
<rect x="557.23" y="247.9" width="1.3" height="8.4" shape-rendering="auto" opacity=".85"/>
<rect x="559.03" y="217.7" width="1.3" height="23.4" shape-rendering="auto" opacity=".85"/>
<rect x="560.93" y="204.3" width="1.3" height="8.4" shape-rendering="auto" opacity=".85"/>
<rect x="562.83" y="196.8" width="1.3" height="6.5" shape-rendering="auto" opacity=".85"/>
<rect x="564.03" y="193.0" width="1.3" height="6.6" shape-rendering="auto" opacity=".85"/>
<rect x="565.83" y="198.9" width="1.3" height="4.7" shape-rendering="auto" opacity=".85"/>
<rect x="567.73" y="204.5" width="1.3" height="9.4" shape-rendering="auto" opacity=".85"/>
<rect x="570.13" y="193.9" width="1.3" height="3.7" shape-rendering="auto" opacity=".85"/>
<rect x="572.03" y="190.8" width="1.3" height="7.4" shape-rendering="auto" opacity=".85"/>
<rect x="574.43" y="195.8" width="1.3" height="15.9" shape-rendering="auto" opacity=".85"/>
<rect x="576.33" y="193.0" width="1.3" height="6.6" shape-rendering="auto" opacity=".85"/>
<rect x="578.73" y="180.0" width="1.3" height="9.3" shape-rendering="auto" opacity=".85"/>
<rect x="580.63" y="176.6" width="1.3" height="3.8" shape-rendering="auto" opacity=".85"/>
<rect x="583.13" y="171.5" width="1.3" height="6.1" shape-rendering="auto" opacity=".85"/>
<rect x="584.93" y="175.4" width="1.3" height="3.8" shape-rendering="auto" opacity=".85"/>
<rect x="587.33" y="178.4" width="1.3" height="7.0" shape-rendering="auto" opacity=".85"/>
<rect x="589.23" y="176.9" width="1.3" height="5.7" shape-rendering="auto" opacity=".85"/>
<rect x="590.83" y="173.0" width="1.3" height="3.7" shape-rendering="auto" opacity=".85"/>
<rect x="592.93" y="164.5" width="1.3" height="4.7" shape-rendering="auto" opacity=".85"/>
<rect x="594.83" y="164.2" width="1.3" height="2.8" shape-rendering="auto" opacity=".85"/>
<rect x="597.23" y="157.7" width="1.3" height="4.3" shape-rendering="auto" opacity=".85"/>
<rect x="599.73" y="155.1" width="1.3" height="3.3" shape-rendering="auto" opacity=".85"/>
<rect x="602.13" y="158.3" width="1.3" height="3.7" shape-rendering="auto" opacity=".85"/>
<rect x="604.63" y="164.5" width="1.3" height="4.3" shape-rendering="auto" opacity=".85"/>
<rect x="607.13" y="160.6" width="1.3" height="3.8" shape-rendering="auto" opacity=".85"/>
<rect x="609.53" y="152.7" width="1.3" height="7.5" shape-rendering="auto" opacity=".85"/>
<rect x="610.83" y="143.2" width="1.3" height="5.6" shape-rendering="auto" opacity=".85"/>
<rect x="612.33" y="139.7" width="1.3" height="2.9" shape-rendering="auto" opacity=".85"/>
<rect x="614.43" y="132.3" width="1.3" height="3.2" shape-rendering="auto" opacity=".85"/>
<rect x="615.73" y="130.3" width="1.3" height="4.5" shape-rendering="auto" opacity=".85"/>
<rect x="617.33" y="134.0" width="1.3" height="6.6" shape-rendering="auto" opacity=".85"/>
<rect x="619.33" y="139.8" width="1.3" height="3.6" shape-rendering="auto" opacity=".85"/>
<rect x="621.23" y="142.8" width="1.3" height="3.3" shape-rendering="auto" opacity=".85"/>
<rect x="622.23" y="149.5" width="1.3" height="25.7" shape-rendering="auto" opacity=".85"/>
<rect x="623.03" y="150.7" width="1.3" height="23.6" shape-rendering="auto" opacity=".85"/>
<rect x="624.33" y="166.0" width="1.3" height="6.6" shape-rendering="auto" opacity=".85"/>
<rect x="625.93" y="162.8" width="1.3" height="8.8" shape-rendering="auto" opacity=".85"/>
<rect x="628.33" y="180.6" width="1.3" height="8.8" shape-rendering="auto" opacity=".85"/>
<rect x="630.43" y="179.8" width="1.3" height="8.4" shape-rendering="auto" opacity=".85"/>
<rect x="631.93" y="175.4" width="1.3" height="15.4" shape-rendering="auto" opacity=".85"/>
<rect x="633.53" y="180.9" width="1.3" height="15.0" shape-rendering="auto" opacity=".85"/>
<rect x="634.43" y="163.7" width="1.3" height="29.8" shape-rendering="auto" opacity=".85"/>
<rect x="636.03" y="150.2" width="1.3" height="7.6" shape-rendering="auto" opacity=".85"/>
<rect x="637.83" y="147.4" width="1.3" height="8.9" shape-rendering="auto" opacity=".85"/>
<rect x="639.73" y="145.5" width="1.3" height="9.4" shape-rendering="auto" opacity=".85"/>
<rect x="643.33" y="138.7" width="1.3" height="4.6" shape-rendering="auto" opacity=".85"/>
<rect x="645.23" y="137.0" width="1.3" height="12.5" shape-rendering="auto" opacity=".85"/>
<rect x="647.03" y="138.0" width="1.3" height="12.8" shape-rendering="auto" opacity=".85"/>
<rect x="648.93" y="147.8" width="1.3" height="7.9" shape-rendering="auto" opacity=".85"/>
<rect x="650.73" y="154.0" width="1.3" height="7.4" shape-rendering="auto" opacity=".85"/>
<rect x="652.63" y="148.1" width="1.3" height="9.4" shape-rendering="auto" opacity=".85"/>
<rect x="654.43" y="154.4" width="1.3" height="10.3" shape-rendering="auto" opacity=".85"/>
<rect x="656.33" y="165.1" width="1.3" height="8.5" shape-rendering="auto" opacity=".85"/>
<rect x="658.73" y="165.7" width="1.3" height="8.1" shape-rendering="auto" opacity=".85"/>
<rect x="661.23" y="170.8" width="1.3" height="4.9" shape-rendering="auto" opacity=".85"/>
<rect x="662.73" y="176.0" width="1.3" height="6.5" shape-rendering="auto" opacity=".85"/>
<rect x="664.43" y="183.2" width="1.3" height="10.9" shape-rendering="auto" opacity=".85"/>
<rect x="666.33" y="184.8" width="1.3" height="8.0" shape-rendering="auto" opacity=".85"/>
<rect x="668.73" y="191.6" width="1.3" height="16.3" shape-rendering="auto" opacity=".85"/>
<rect x="670.73" y="184.5" width="1.3" height="6.5" shape-rendering="auto" opacity=".85"/>
<rect x="673.13" y="176.9" width="1.3" height="5.7" shape-rendering="auto" opacity=".85"/>
<rect x="677.23" y="162.9" width="1.3" height="5.6" shape-rendering="auto" opacity=".85"/>
<rect x="679.63" y="161.7" width="1.3" height="5.5" shape-rendering="auto" opacity=".85"/>
<rect x="682.73" y="152.8" width="1.3" height="8.4" shape-rendering="auto" opacity=".85"/>
<rect x="684.63" y="156.5" width="1.3" height="8.4" shape-rendering="auto" opacity=".85"/>
<rect x="687.03" y="154.6" width="1.3" height="7.9" shape-rendering="auto" opacity=".85"/>
<rect x="688.93" y="158.0" width="1.3" height="10.3" shape-rendering="auto" opacity=".85"/>
<rect x="692.43" y="175.9" width="1.3" height="5.5" shape-rendering="auto" opacity=".85"/>
<rect x="696.73" y="173.7" width="1.3" height="4.6" shape-rendering="auto" opacity=".85"/>
<rect x="698.53" y="165.2" width="1.3" height="7.6" shape-rendering="auto" opacity=".85"/>
<rect x="700.33" y="158.4" width="1.3" height="5.9" shape-rendering="auto" opacity=".85"/>
<rect x="702.33" y="162.8" width="1.3" height="5.0" shape-rendering="auto" opacity=".85"/>
<rect x="704.13" y="160.4" width="1.3" height="6.1" shape-rendering="auto" opacity=".85"/>
<rect x="706.53" y="160.2" width="1.3" height="5.0" shape-rendering="auto" opacity=".85"/>
<rect x="709.03" y="158.0" width="1.3" height="6.5" shape-rendering="auto" opacity=".85"/>
<rect x="710.83" y="152.1" width="1.3" height="8.4" shape-rendering="auto" opacity=".85"/>
<rect x="712.43" y="150.0" width="1.3" height="6.1" shape-rendering="auto" opacity=".85"/>
<rect x="713.93" y="154.2" width="1.3" height="6.5" shape-rendering="auto" opacity=".85"/>
<rect x="715.33" y="158.7" width="1.3" height="4.3" shape-rendering="auto" opacity=".85"/>
<rect x="717.33" y="147.5" width="1.3" height="6.1" shape-rendering="auto" opacity=".85"/>
<rect x="719.43" y="145.2" width="1.3" height="4.1" shape-rendering="auto" opacity=".85"/>
<rect x="721.53" y="143.4" width="1.3" height="3.7" shape-rendering="auto" opacity=".85"/>
<rect x="723.73" y="136.4" width="1.3" height="6.1" shape-rendering="auto" opacity=".85"/>
<rect x="725.63" y="136.5" width="1.3" height="7.0" shape-rendering="auto" opacity=".85"/>
<rect x="727.43" y="140.5" width="1.3" height="5.2" shape-rendering="auto" opacity=".85"/>
<rect x="729.93" y="140.9" width="1.3" height="3.7" shape-rendering="auto" opacity=".85"/>
<rect x="731.73" y="140.4" width="1.3" height="4.6" shape-rendering="auto" opacity=".85"/>
<rect x="734.23" y="140.3" width="1.3" height="3.7" shape-rendering="auto" opacity=".85"/>
<rect x="736.13" y="139.2" width="1.3" height="4.6" shape-rendering="auto" opacity=".85"/>
<rect x="737.53" y="143.5" width="1.3" height="4.2" shape-rendering="auto" opacity=".85"/>
<rect x="739.13" y="147.3" width="1.3" height="5.1" shape-rendering="auto" opacity=".85"/>
<rect x="741.03" y="143.8" width="1.3" height="2.7" shape-rendering="auto" opacity=".85"/>
<rect x="741.73" y="137.8" width="1.3" height="5.3" shape-rendering="auto" opacity=".85"/>
<rect x="742.43" y="135.4" width="1.3" height="7.4" shape-rendering="auto" opacity=".85"/>
</g>
<rect x="616" y="130" width="1" height="1" fill="#11d5d5"/><rect x="228" y="146" width="1" height="1" fill="#1fefef"/><rect x="611" y="146" width="1" height="1" fill="#1fefef"/><rect x="621" y="146" width="2" height="1" fill="#1fefef"/><rect x="638" y="146" width="1" height="1" fill="#1fefef"/><rect x="640" y="146" width="3" height="1" fill="#1fefef"/><rect x="645" y="146" width="4" height="1" fill="#1fefef"/><rect x="719" y="146" width="4" height="1" fill="#1fefef"/><rect x="728" y="146" width="1" height="1" fill="#1fefef"/><rect x="738" y="146" width="1" height="1" fill="#1fefef"/><rect x="740" y="146" width="2" height="1" fill="#1fefef"/><rect x="174" y="169" width="2" height="1" fill="#0a6f6f"/><rect x="178" y="169" width="2" height="1" fill="#0a6f6f"/><rect x="204" y="169" width="1" height="1" fill="#0a6f6f"/><rect x="210" y="169" width="1" height="1" fill="#0a6f6f"/><rect x="216" y="169" width="2" height="1" fill="#0a6f6f"/><rect x="220" y="169" width="2" height="1" fill="#0a6f6f"/><rect x="238" y="169" width="2" height="1" fill="#0a6f6f"/><rect x="242" y="169" width="1" height="1" fill="#0a6f6f"/><rect x="463" y="169" width="5" height="1" fill="#0a6f6f"/><rect x="592" y="169" width="2" height="1" fill="#0a6f6f"/><rect x="622" y="169" width="5" height="1" fill="#0a6f6f"/><rect x="635" y="169" width="1" height="1" fill="#0a6f6f"/><rect x="656" y="169" width="5" height="1" fill="#0a6f6f"/><rect x="675" y="169" width="3" height="1" fill="#0a6f6f"/><rect x="689" y="169" width="3" height="1" fill="#0a6f6f"/><rect x="698" y="169" width="2" height="1" fill="#0a6f6f"/><rect x="162" y="191" width="1" height="1" fill="#0a6f6f"/><rect x="172" y="191" width="2" height="1" fill="#0a6f6f"/><rect x="187" y="191" width="1" height="1" fill="#0a6f6f"/><rect x="189" y="191" width="2" height="1" fill="#0a6f6f"/><rect x="192" y="191" width="1" height="1" fill="#0a6f6f"/><rect x="199" y="191" width="2" height="1" fill="#0a6f6f"/><rect x="212" y="191" width="2" height="1" fill="#0a6f6f"/><rect x="454" y="191" width="3" height="1" fill="#0a6f6f"/><rect x="458" y="191" width="1" height="1" fill="#0a6f6f"/><rect x="572" y="191" width="1" height="1" fill="#0a6f6f"/><rect x="577" y="191" width="2" height="1" fill="#0a6f6f"/><rect x="632" y="191" width="1" height="1" fill="#0a6f6f"/><rect x="634" y="191" width="2" height="1" fill="#0a6f6f"/><rect x="665" y="191" width="1" height="1" fill="#0a6f6f"/><rect x="667" y="191" width="5" height="1" fill="#0a6f6f"/><rect x="691" y="191" width="1" height="1" fill="#0a6f6f"/><rect x="156" y="204" width="4" height="1" fill="#0a6f6f"/><rect x="167" y="204" width="4" height="1" fill="#0a6f6f"/><rect x="194" y="204" width="2" height="1" fill="#0a6f6f"/><rect x="197" y="204" width="1" height="1" fill="#0a6f6f"/><rect x="245" y="204" width="1" height="1" fill="#0a6f6f"/><rect x="251" y="204" width="1" height="1" fill="#0a6f6f"/><rect x="273" y="204" width="1" height="1" fill="#0a6f6f"/><rect x="368" y="204" width="4" height="1" fill="#0a6f6f"/><rect x="375" y="204" width="1" height="1" fill="#0a6f6f"/><rect x="394" y="204" width="1" height="1" fill="#0a6f6f"/><rect x="412" y="204" width="1" height="1" fill="#0a6f6f"/><rect x="418" y="204" width="1" height="1" fill="#0a6f6f"/><rect x="453" y="204" width="2" height="1" fill="#0a6f6f"/><rect x="467" y="204" width="1" height="1" fill="#0a6f6f"/><rect x="469" y="204" width="1" height="1" fill="#0a6f6f"/><rect x="561" y="204" width="2" height="1" fill="#0a6f6f"/><rect x="567" y="204" width="3" height="1" fill="#0a6f6f"/><rect x="574" y="204" width="2" height="1" fill="#0a6f6f"/><rect x="669" y="204" width="1" height="1" fill="#0a6f6f"/><rect x="154" y="214" width="2" height="1" fill="#11e3e3"/><rect x="195" y="214" width="1" height="1" fill="#11e3e3"/><rect x="245" y="214" width="3" height="1" fill="#11e3e3"/><rect x="249" y="214" width="1" height="1" fill="#11e3e3"/><rect x="251" y="214" width="2" height="1" fill="#11e3e3"/><rect x="255" y="214" width="1" height="1" fill="#11e3e3"/><rect x="257" y="214" width="7" height="1" fill="#11e3e3"/><rect x="272" y="214" width="5" height="1" fill="#11e3e3"/><rect x="289" y="214" width="1" height="1" fill="#11e3e3"/><rect x="292" y="214" width="5" height="1" fill="#11e3e3"/><rect x="365" y="214" width="2" height="1" fill="#11e3e3"/><rect x="375" y="214" width="1" height="1" fill="#11e3e3"/><rect x="377" y="214" width="2" height="1" fill="#11e3e3"/><rect x="386" y="214" width="4" height="1" fill="#11e3e3"/><rect x="393" y="214" width="1" height="1" fill="#11e3e3"/><rect x="396" y="214" width="5" height="1" fill="#11e3e3"/><rect x="407" y="214" width="4" height="1" fill="#11e3e3"/><rect x="415" y="214" width="1" height="1" fill="#11e3e3"/><rect x="422" y="214" width="1" height="1" fill="#11e3e3"/><rect x="451" y="214" width="3" height="1" fill="#11e3e3"/><rect x="467" y="214" width="3" height="1" fill="#11e3e3"/><rect x="559" y="214" width="3" height="1" fill="#11e3e3"/><rect x="568" y="214" width="1" height="1" fill="#11e3e3"/>
<rect x="36" y="398" width="4" height="1" fill="#222222"/><rect x="40" y="397" width="3" height="1" fill="#222222"/><rect x="43" y="396" width="4" height="1" fill="#222222"/><rect x="47" y="395" width="4" height="1" fill="#222222"/><rect x="51" y="394" width="3" height="1" fill="#222222"/><rect x="54" y="393" width="4" height="1" fill="#222222"/><rect x="58" y="392" width="4" height="1" fill="#222222"/><rect x="62" y="391" width="4" height="1" fill="#222222"/><rect x="66" y="390" width="3" height="1" fill="#222222"/><rect x="69" y="389" width="4" height="1" fill="#222222"/><rect x="73" y="388" width="4" height="1" fill="#222222"/><rect x="77" y="387" width="3" height="1" fill="#222222"/><rect x="80" y="386" width="4" height="1" fill="#222222"/><rect x="84" y="385" width="4" height="1" fill="#222222"/><rect x="88" y="384" width="3" height="1" fill="#222222"/><rect x="91" y="383" width="4" height="1" fill="#222222"/><rect x="95" y="382" width="4" height="1" fill="#222222"/><rect x="99" y="381" width="4" height="1" fill="#222222"/><rect x="103" y="380" width="3" height="1" fill="#222222"/><rect x="106" y="379" width="4" height="1" fill="#222222"/><rect x="110" y="378" width="4" height="1" fill="#222222"/><rect x="114" y="377" width="3" height="1" fill="#222222"/><rect x="117" y="376" width="4" height="1" fill="#222222"/><rect x="121" y="375" width="4" height="1" fill="#222222"/><rect x="125" y="374" width="3" height="1" fill="#222222"/><rect x="128" y="373" width="4" height="1" fill="#222222"/><rect x="132" y="372" width="4" height="1" fill="#222222"/><rect x="136" y="371" width="4" height="1" fill="#222222"/><rect x="140" y="370" width="3" height="1" fill="#222222"/><rect x="143" y="369" width="4" height="1" fill="#222222"/><rect x="147" y="368" width="4" height="1" fill="#222222"/><rect x="151" y="367" width="3" height="1" fill="#222222"/><rect x="154" y="366" width="4" height="1" fill="#222222"/><rect x="158" y="365" width="4" height="1" fill="#222222"/><rect x="162" y="364" width="3" height="1" fill="#222222"/><rect x="165" y="363" width="4" height="1" fill="#222222"/><rect x="169" y="362" width="4" height="1" fill="#222222"/><rect x="173" y="361" width="4" height="1" fill="#222222"/><rect x="177" y="360" width="3" height="1" fill="#222222"/><rect x="180" y="359" width="4" height="1" fill="#222222"/><rect x="184" y="358" width="4" height="1" fill="#222222"/><rect x="188" y="357" width="3" height="1" fill="#222222"/><rect x="191" y="356" width="4" height="1" fill="#222222"/><rect x="195" y="355" width="4" height="1" fill="#222222"/><rect x="199" y="354" width="3" height="1" fill="#222222"/><rect x="202" y="353" width="4" height="1" fill="#222222"/><rect x="206" y="352" width="4" height="1" fill="#222222"/><rect x="210" y="351" width="4" height="1" fill="#222222"/><rect x="214" y="350" width="3" height="1" fill="#222222"/><rect x="217" y="349" width="4" height="1" fill="#222222"/><rect x="221" y="348" width="4" height="1" fill="#222222"/><rect x="225" y="347" width="3" height="1" fill="#222222"/><rect x="228" y="346" width="4" height="1" fill="#222222"/><rect x="232" y="345" width="4" height="1" fill="#222222"/><rect x="236" y="344" width="3" height="1" fill="#222222"/><rect x="239" y="343" width="4" height="1" fill="#222222"/><rect x="243" y="342" width="4" height="1" fill="#222222"/><rect x="247" y="341" width="4" height="1" fill="#222222"/><rect x="251" y="340" width="3" height="1" fill="#222222"/><rect x="254" y="339" width="4" height="1" fill="#222222"/><rect x="258" y="338" width="4" height="1" fill="#222222"/><rect x="262" y="337" width="3" height="1" fill="#222222"/><rect x="265" y="336" width="4" height="1" fill="#222222"/><rect x="269" y="335" width="4" height="1" fill="#222222"/><rect x="273" y="334" width="3" height="1" fill="#222222"/><rect x="276" y="333" width="4" height="1" fill="#222222"/><rect x="280" y="332" width="4" height="1" fill="#222222"/><rect x="284" y="331" width="3" height="1" fill="#222222"/><rect x="287" y="330" width="4" height="1" fill="#222222"/><rect x="291" y="329" width="4" height="1" fill="#222222"/><rect x="295" y="328" width="4" height="1" fill="#222222"/><rect x="299" y="327" width="3" height="1" fill="#222222"/><rect x="302" y="326" width="4" height="1" fill="#222222"/><rect x="306" y="325" width="4" height="1" fill="#222222"/><rect x="310" y="324" width="3" height="1" fill="#222222"/><rect x="313" y="323" width="4" height="1" fill="#222222"/><rect x="317" y="322" width="4" height="1" fill="#222222"/><rect x="321" y="321" width="3" height="1" fill="#222222"/><rect x="324" y="320" width="4" height="1" fill="#222222"/><rect x="328" y="319" width="4" height="1" fill="#222222"/><rect x="332" y="318" width="4" height="1" fill="#222222"/><rect x="336" y="317" width="3" height="1" fill="#222222"/><rect x="339" y="316" width="4" height="1" fill="#222222"/><rect x="343" y="315" width="4" height="1" fill="#222222"/><rect x="347" y="314" width="3" height="1" fill="#222222"/><rect x="350" y="313" width="4" height="1" fill="#222222"/><rect x="354" y="312" width="4" height="1" fill="#222222"/><rect x="358" y="311" width="3" height="1" fill="#222222"/><rect x="361" y="310" width="4" height="1" fill="#222222"/><rect x="365" y="309" width="4" height="1" fill="#222222"/><rect x="369" y="308" width="4" height="1" fill="#222222"/><rect x="373" y="307" width="3" height="1" fill="#222222"/><rect x="376" y="306" width="4" height="1" fill="#222222"/><rect x="380" y="305" width="4" height="1" fill="#222222"/><rect x="384" y="304" width="3" height="1" fill="#222222"/><rect x="387" y="303" width="4" height="1" fill="#222222"/><rect x="391" y="302" width="4" height="1" fill="#222222"/><rect x="395" y="301" width="3" height="1" fill="#222222"/><rect x="398" y="300" width="4" height="1" fill="#222222"/><rect x="402" y="299" width="4" height="1" fill="#222222"/><rect x="406" y="298" width="4" height="1" fill="#222222"/><rect x="410" y="297" width="3" height="1" fill="#222222"/><rect x="413" y="296" width="4" height="1" fill="#222222"/><rect x="417" y="295" width="4" height="1" fill="#222222"/><rect x="421" y="294" width="3" height="1" fill="#222222"/><rect x="424" y="293" width="4" height="1" fill="#222222"/><rect x="428" y="292" width="4" height="1" fill="#222222"/><rect x="432" y="291" width="3" height="1" fill="#222222"/><rect x="435" y="290" width="4" height="1" fill="#222222"/><rect x="439" y="289" width="4" height="1" fill="#222222"/><rect x="443" y="288" width="4" height="1" fill="#222222"/><rect x="447" y="287" width="3" height="1" fill="#222222"/><rect x="450" y="286" width="4" height="1" fill="#222222"/><rect x="454" y="285" width="4" height="1" fill="#222222"/><rect x="458" y="284" width="3" height="1" fill="#222222"/><rect x="461" y="283" width="4" height="1" fill="#222222"/><rect x="465" y="282" width="4" height="1" fill="#222222"/><rect x="469" y="281" width="3" height="1" fill="#222222"/><rect x="472" y="280" width="4" height="1" fill="#222222"/><rect x="476" y="279" width="4" height="1" fill="#222222"/><rect x="480" y="278" width="4" height="1" fill="#222222"/><rect x="484" y="277" width="3" height="1" fill="#222222"/><rect x="487" y="276" width="4" height="1" fill="#222222"/><rect x="491" y="275" width="4" height="1" fill="#222222"/><rect x="495" y="274" width="3" height="1" fill="#222222"/><rect x="498" y="273" width="4" height="1" fill="#222222"/><rect x="502" y="272" width="4" height="1" fill="#222222"/><rect x="506" y="271" width="3" height="1" fill="#222222"/><rect x="509" y="270" width="4" height="1" fill="#222222"/><rect x="513" y="269" width="4" height="1" fill="#222222"/><rect x="517" y="268" width="3" height="1" fill="#222222"/><rect x="520" y="267" width="4" height="1" fill="#222222"/><rect x="524" y="266" width="4" height="1" fill="#222222"/><rect x="528" y="265" width="4" height="1" fill="#222222"/><rect x="532" y="264" width="3" height="1" fill="#ffffff"/><rect x="535" y="263" width="1" height="1" fill="#ffffff"/><rect x="536" y="263" width="3" height="1" fill="#222222"/><rect x="539" y="262" width="4" height="1" fill="#222222"/><rect x="543" y="261" width="1" height="1" fill="#222222"/><rect x="544" y="261" width="2" height="1" fill="#ffffff"/><rect x="546" y="260" width="3" height="1" fill="#222222"/><rect x="549" y="260" width="1" height="1" fill="#ffffff"/><rect x="550" y="259" width="1" height="1" fill="#ffffff"/><rect x="551" y="259" width="3" height="1" fill="#222222"/><rect x="554" y="258" width="3" height="1" fill="#222222"/><rect x="557" y="257" width="1" height="1" fill="#ffffff"/><rect x="558" y="257" width="3" height="1" fill="#222222"/><rect x="561" y="256" width="4" height="1" fill="#222222"/><rect x="565" y="255" width="4" height="1" fill="#222222"/><rect x="569" y="254" width="3" height="1" fill="#222222"/><rect x="572" y="253" width="4" height="1" fill="#222222"/><rect x="576" y="252" width="4" height="1" fill="#222222"/><rect x="580" y="251" width="3" height="1" fill="#222222"/><rect x="583" y="250" width="4" height="1" fill="#222222"/><rect x="587" y="249" width="4" height="1" fill="#222222"/><rect x="591" y="248" width="3" height="1" fill="#222222"/><rect x="594" y="247" width="4" height="1" fill="#222222"/><rect x="598" y="246" width="4" height="1" fill="#222222"/><rect x="602" y="245" width="4" height="1" fill="#222222"/><rect x="606" y="244" width="3" height="1" fill="#222222"/><rect x="609" y="243" width="4" height="1" fill="#222222"/><rect x="613" y="242" width="4" height="1" fill="#222222"/><rect x="617" y="241" width="3" height="1" fill="#222222"/><rect x="620" y="240" width="4" height="1" fill="#222222"/><rect x="624" y="239" width="4" height="1" fill="#222222"/><rect x="628" y="238" width="3" height="1" fill="#222222"/><rect x="631" y="237" width="4" height="1" fill="#222222"/><rect x="635" y="236" width="4" height="1" fill="#222222"/><rect x="639" y="235" width="4" height="1" fill="#222222"/><rect x="643" y="234" width="3" height="1" fill="#222222"/><rect x="646" y="233" width="4" height="1" fill="#222222"/><rect x="650" y="232" width="4" height="1" fill="#222222"/><rect x="654" y="231" width="3" height="1" fill="#222222"/><rect x="657" y="230" width="4" height="1" fill="#222222"/><rect x="661" y="229" width="4" height="1" fill="#222222"/><rect x="665" y="228" width="3" height="1" fill="#222222"/><rect x="668" y="227" width="4" height="1" fill="#222222"/><rect x="672" y="226" width="4" height="1" fill="#222222"/><rect x="676" y="225" width="4" height="1" fill="#222222"/><rect x="680" y="224" width="3" height="1" fill="#222222"/><rect x="683" y="223" width="4" height="1" fill="#222222"/><rect x="687" y="222" width="4" height="1" fill="#222222"/><rect x="691" y="221" width="3" height="1" fill="#222222"/><rect x="694" y="220" width="4" height="1" fill="#222222"/><rect x="698" y="219" width="4" height="1" fill="#222222"/><rect x="702" y="218" width="3" height="1" fill="#222222"/><rect x="705" y="217" width="4" height="1" fill="#222222"/><rect x="709" y="216" width="4" height="1" fill="#222222"/><rect x="713" y="215" width="4" height="1" fill="#222222"/><rect x="717" y="214" width="3" height="1" fill="#66e8e8"/><rect x="720" y="213" width="4" height="1" fill="#222222"/><rect x="724" y="212" width="4" height="1" fill="#222222"/><rect x="728" y="211" width="3" height="1" fill="#222222"/><rect x="731" y="210" width="4" height="1" fill="#222222"/><rect x="735" y="209" width="4" height="1" fill="#222222"/><rect x="739" y="208" width="3" height="1" fill="#222222"/><rect x="742" y="207" width="4" height="1" fill="#222222"/><rect x="746" y="206" width="4" height="1" fill="#222222"/><rect x="750" y="205" width="3" height="1" fill="#222222"/><rect x="753" y="204" width="4" height="1" fill="#66e8e8"/><rect x="757" y="203" width="4" height="1" fill="#222222"/><rect x="761" y="202" width="4" height="1" fill="#222222"/><rect x="765" y="201" width="3" height="1" fill="#222222"/><rect x="768" y="200" width="4" height="1" fill="#222222"/><rect x="772" y="199" width="4" height="1" fill="#222222"/><rect x="776" y="198" width="3" height="1" fill="#222222"/><rect x="779" y="197" width="4" height="1" fill="#222222"/><rect x="783" y="196" width="4" height="1" fill="#222222"/><rect x="787" y="195" width="3" height="1" fill="#222222"/><rect x="790" y="194" width="4" height="1" fill="#222222"/><rect x="794" y="193" width="4" height="1" fill="#222222"/><rect x="798" y="192" width="4" height="1" fill="#222222"/><rect x="802" y="191" width="3" height="1" fill="#66e8e8"/><rect x="805" y="190" width="4" height="1" fill="#222222"/><rect x="809" y="189" width="4" height="1" fill="#222222"/><rect x="813" y="188" width="3" height="1" fill="#222222"/><rect x="816" y="187" width="4" height="1" fill="#222222"/><rect x="820" y="186" width="4" height="1" fill="#222222"/><rect x="824" y="185" width="3" height="1" fill="#222222"/><rect x="827" y="184" width="4" height="1" fill="#222222"/><rect x="831" y="183" width="4" height="1" fill="#222222"/><rect x="835" y="182" width="4" height="1" fill="#222222"/><rect x="839" y="181" width="3" height="1" fill="#222222"/><rect x="842" y="180" width="4" height="1" fill="#222222"/><rect x="846" y="179" width="4" height="1" fill="#222222"/><rect x="850" y="178" width="3" height="1" fill="#222222"/><rect x="853" y="177" width="4" height="1" fill="#222222"/><rect x="857" y="176" width="4" height="1" fill="#222222"/><rect x="861" y="175" width="3" height="1" fill="#222222"/><rect x="864" y="174" width="4" height="1" fill="#222222"/><rect x="868" y="173" width="4" height="1" fill="#222222"/><rect x="872" y="172" width="4" height="1" fill="#222222"/><rect x="876" y="171" width="3" height="1" fill="#222222"/><rect x="879" y="170" width="4" height="1" fill="#222222"/><rect x="883" y="169" width="4" height="1" fill="#66e8e8"/><rect x="887" y="168" width="3" height="1" fill="#222222"/><rect x="890" y="167" width="4" height="1" fill="#222222"/><rect x="894" y="166" width="4" height="1" fill="#222222"/><rect x="898" y="165" width="3" height="1" fill="#222222"/><rect x="901" y="164" width="4" height="1" fill="#222222"/><rect x="905" y="163" width="4" height="1" fill="#222222"/><rect x="909" y="162" width="4" height="1" fill="#222222"/><rect x="913" y="161" width="3" height="1" fill="#222222"/><rect x="916" y="160" width="4" height="1" fill="#222222"/><rect x="920" y="159" width="4" height="1" fill="#222222"/><rect x="924" y="158" width="3" height="1" fill="#222222"/><rect x="927" y="157" width="4" height="1" fill="#222222"/><rect x="931" y="156" width="4" height="1" fill="#222222"/><rect x="935" y="155" width="3" height="1" fill="#222222"/><rect x="938" y="154" width="4" height="1" fill="#222222"/><rect x="942" y="153" width="4" height="1" fill="#222222"/><rect x="946" y="152" width="4" height="1" fill="#222222"/><rect x="950" y="151" width="3" height="1" fill="#222222"/><rect x="953" y="150" width="4" height="1" fill="#222222"/><rect x="957" y="149" width="4" height="1" fill="#222222"/><rect x="961" y="148" width="3" height="1" fill="#222222"/><rect x="964" y="147" width="4" height="1" fill="#222222"/><rect x="229" y="147" width="1" height="1" fill="#484848"/><rect x="230" y="147" width="1" height="1" fill="#ffffff"/><rect x="231" y="147" width="10" height="1" fill="#484848"/><rect x="241" y="148" width="12" height="1" fill="#484848"/><rect x="253" y="149" width="12" height="1" fill="#484848"/><rect x="265" y="150" width="13" height="1" fill="#484848"/><rect x="278" y="151" width="12" height="1" fill="#484848"/><rect x="290" y="152" width="12" height="1" fill="#484848"/><rect x="302" y="153" width="12" height="1" fill="#484848"/><rect x="314" y="154" width="13" height="1" fill="#484848"/><rect x="327" y="155" width="12" height="1" fill="#484848"/><rect x="339" y="156" width="12" height="1" fill="#484848"/><rect x="351" y="157" width="13" height="1" fill="#484848"/><rect x="364" y="158" width="12" height="1" fill="#484848"/><rect x="376" y="159" width="12" height="1" fill="#484848"/><rect x="388" y="160" width="12" height="1" fill="#484848"/><rect x="400" y="161" width="13" height="1" fill="#484848"/><rect x="413" y="162" width="12" height="1" fill="#484848"/><rect x="425" y="163" width="12" height="1" fill="#484848"/><rect x="437" y="164" width="13" height="1" fill="#484848"/><rect x="450" y="165" width="12" height="1" fill="#484848"/><rect x="462" y="166" width="2" height="1" fill="#484848"/><rect x="464" y="166" width="3" height="1" fill="#ffffff"/><rect x="467" y="166" width="7" height="1" fill="#484848"/><rect x="474" y="167" width="12" height="1" fill="#484848"/><rect x="486" y="168" width="13" height="1" fill="#484848"/><rect x="499" y="169" width="12" height="1" fill="#66e8e8"/><rect x="511" y="170" width="12" height="1" fill="#484848"/><rect x="523" y="171" width="13" height="1" fill="#484848"/><rect x="536" y="172" width="12" height="1" fill="#484848"/><rect x="548" y="173" width="12" height="1" fill="#484848"/><rect x="560" y="174" width="12" height="1" fill="#484848"/><rect x="572" y="175" width="10" height="1" fill="#484848"/><rect x="582" y="175" width="3" height="1" fill="#ffffff"/><rect x="585" y="176" width="1" height="1" fill="#ffffff"/><rect x="586" y="176" width="3" height="1" fill="#484848"/><rect x="589" y="176" width="3" height="1" fill="#ffffff"/><rect x="592" y="176" width="5" height="1" fill="#484848"/><rect x="597" y="177" width="12" height="1" fill="#484848"/><rect x="609" y="178" width="13" height="1" fill="#484848"/><rect x="622" y="179" width="7" height="1" fill="#484848"/><rect x="629" y="179" width="1" height="1" fill="#ffffff"/><rect x="630" y="179" width="1" height="1" fill="#484848"/><rect x="631" y="179" width="2" height="1" fill="#ffffff"/><rect x="633" y="179" width="1" height="1" fill="#484848"/><rect x="634" y="180" width="2" height="1" fill="#ffffff"/><rect x="636" y="180" width="10" height="1" fill="#484848"/><rect x="646" y="181" width="12" height="1" fill="#484848"/><rect x="658" y="182" width="5" height="1" fill="#484848"/><rect x="663" y="182" width="3" height="1" fill="#ffffff"/><rect x="666" y="182" width="5" height="1" fill="#484848"/><rect x="671" y="183" width="1" height="1" fill="#484848"/><rect x="672" y="183" width="2" height="1" fill="#ffffff"/><rect x="674" y="183" width="9" height="1" fill="#484848"/><rect x="683" y="184" width="8" height="1" fill="#484848"/><rect x="691" y="184" width="1" height="1" fill="#ffffff"/><rect x="692" y="184" width="3" height="1" fill="#484848"/><rect x="695" y="185" width="1" height="1" fill="#ffffff"/><rect x="696" y="185" width="12" height="1" fill="#484848"/><rect x="708" y="186" width="12" height="1" fill="#484848"/><rect x="720" y="187" width="12" height="1" fill="#484848"/><rect x="732" y="188" width="12" height="1" fill="#484848"/><rect x="744" y="189" width="13" height="1" fill="#484848"/><rect x="757" y="190" width="12" height="1" fill="#484848"/><rect x="769" y="191" width="12" height="1" fill="#66e8e8"/><rect x="781" y="192" width="13" height="1" fill="#484848"/><rect x="794" y="193" width="12" height="1" fill="#484848"/><rect x="806" y="194" width="12" height="1" fill="#484848"/><rect x="818" y="195" width="12" height="1" fill="#484848"/><rect x="830" y="196" width="13" height="1" fill="#484848"/><rect x="843" y="197" width="12" height="1" fill="#484848"/><rect x="855" y="198" width="12" height="1" fill="#484848"/><rect x="867" y="199" width="13" height="1" fill="#484848"/><rect x="880" y="200" width="12" height="1" fill="#484848"/><rect x="892" y="201" width="12" height="1" fill="#484848"/><rect x="904" y="202" width="12" height="1" fill="#484848"/><rect x="916" y="203" width="13" height="1" fill="#484848"/><rect x="929" y="204" width="12" height="1" fill="#66e8e8"/><rect x="941" y="205" width="12" height="1" fill="#484848"/><rect x="953" y="206" width="13" height="1" fill="#484848"/><rect x="966" y="207" width="2" height="1" fill="#484848"/>
<g font-family="DejaVu Sans, Liberation Sans, sans-serif" font-size="7" fill="#111">
<text x="971.5" y="417.7">7000,</text><text x="971.5" y="342.1">8000,</text><text x="971.5" y="275.4">9000,</text><text x="971.5" y="215.8">10000,</text><text x="971.5" y="161.9">11000,</text><text x="971.5" y="112.6">12000,</text><text x="971.5" y="67.3">13000,</text><text x="971.5" y="25.4">14000,</text>
<text x="43.700" y="478">24</text><text x="393" y="478">25</text><text x="743.700" y="478">26</text>
</g>
<!-- time axis ticks -->
<rect x="42" y="468" width="1" height="12" fill="#111"/>
<rect x="392" y="468" width="1" height="12" fill="#808080"/>
<rect x="742" y="468" width="1" height="12" fill="#777"/>
<rect x="633.00" y="468" width="1.3" height="4" fill="#111" shape-rendering="auto"/><rect x="635.47" y="468" width="1.6" height="4" fill="#111" shape-rendering="auto"/><rect x="637.94" y="468" width="1.2" height="4" fill="#111" shape-rendering="auto"/><rect x="640.41" y="468" width="1.9" height="4" fill="#111" shape-rendering="auto"/><rect x="642.88" y="468" width="1.4" height="4" fill="#111" shape-rendering="auto"/><rect x="645.35" y="468" width="1.3" height="4" fill="#111" shape-rendering="auto"/><rect x="647.82" y="468" width="1.6" height="4" fill="#111" shape-rendering="auto"/><rect x="650.29" y="468" width="1.2" height="4" fill="#111" shape-rendering="auto"/><rect x="652.76" y="468" width="1.9" height="4" fill="#111" shape-rendering="auto"/><rect x="655.23" y="468" width="1.4" height="4" fill="#111" shape-rendering="auto"/><rect x="657.70" y="468" width="1.3" height="4" fill="#111" shape-rendering="auto"/><rect x="660.17" y="468" width="1.6" height="4" fill="#111" shape-rendering="auto"/><rect x="662.64" y="468" width="1.2" height="4" fill="#111" shape-rendering="auto"/><rect x="665.11" y="468" width="1.9" height="4" fill="#111" shape-rendering="auto"/><rect x="667.58" y="468" width="1.4" height="4" fill="#111" shape-rendering="auto"/><rect x="670.05" y="468" width="1.3" height="4" fill="#111" shape-rendering="auto"/><rect x="672.52" y="468" width="1.6" height="4" fill="#111" shape-rendering="auto"/><rect x="674.99" y="468" width="1.2" height="4" fill="#111" shape-rendering="auto"/><rect x="677.46" y="468" width="1.9" height="4" fill="#111" shape-rendering="auto"/><rect x="679.93" y="468" width="1.4" height="4" fill="#111" shape-rendering="auto"/><rect x="682.40" y="468" width="1.3" height="4" fill="#111" shape-rendering="auto"/><rect x="684.87" y="468" width="1.6" height="4" fill="#111" shape-rendering="auto"/><rect x="687.34" y="468" width="1.2" height="4" fill="#111" shape-rendering="auto"/><rect x="689.81" y="468" width="1.9" height="4" fill="#111" shape-rendering="auto"/><rect x="692.28" y="468" width="1.4" height="4" fill="#111" shape-rendering="auto"/><rect x="694.75" y="468" width="1.3" height="4" fill="#111" shape-rendering="auto"/><rect x="697.22" y="468" width="1.6" height="4" fill="#111" shape-rendering="auto"/><rect x="699.69" y="468" width="1.2" height="4" fill="#111" shape-rendering="auto"/><rect x="702.16" y="468" width="1.9" height="4" fill="#111" shape-rendering="auto"/><rect x="704.63" y="468" width="1.4" height="4" fill="#111" shape-rendering="auto"/><rect x="707.10" y="468" width="1.3" height="4" fill="#111" shape-rendering="auto"/><rect x="709.57" y="468" width="1.6" height="4" fill="#111" shape-rendering="auto"/><rect x="712.04" y="468" width="1.2" height="4" fill="#111" shape-rendering="auto"/><rect x="714.51" y="468" width="1.9" height="4" fill="#111" shape-rendering="auto"/><rect x="716.98" y="468" width="1.4" height="4" fill="#111" shape-rendering="auto"/><rect x="719.45" y="468" width="1.3" height="4" fill="#111" shape-rendering="auto"/><rect x="721.92" y="468" width="1.6" height="4" fill="#111" shape-rendering="auto"/><rect x="724.39" y="468" width="1.2" height="4" fill="#111" shape-rendering="auto"/><rect x="726.86" y="468" width="1.9" height="4" fill="#111" shape-rendering="auto"/><rect x="729.33" y="468" width="1.4" height="4" fill="#111" shape-rendering="auto"/><rect x="731.80" y="468" width="1.3" height="4" fill="#111" shape-rendering="auto"/><rect x="734.27" y="468" width="1.6" height="4" fill="#111" shape-rendering="auto"/><rect x="736.74" y="468" width="1.2" height="4" fill="#111" shape-rendering="auto"/><rect x="739.21" y="468" width="1.9" height="4" fill="#111" shape-rendering="auto"/><rect x="741.68" y="468" width="1.4" height="4" fill="#111" shape-rendering="auto"/>
</svg>
<!-- scrollbar -->
<div class="abs" style="left:4px;top:480px;width:964px;height:6px;background:#f1f1f1;background-image:linear-gradient(45deg,#fafafa 25%,transparent 25%,transparent 75%,#fafafa 75%),linear-gradient(45deg,#fafafa 25%,transparent 25%,transparent 75%,#fafafa 75%);background-size:4px 4px;background-position:0 0,2px 2px;"></div>
<div class="abs" style="left:4px;top:480px;width:12px;height:6px;background:#f6f6f6;border-right:1px solid #666;border-bottom:1px solid #666;box-sizing:border-box;"></div>
<div class="abs" style="left:9px;top:482px;width:1px;height:1px;background:#444;"></div>
<div class="abs" style="left:952px;top:480px;width:4px;height:6px;background:#eee;border-right:1px solid #999;border-bottom:1px solid #777;box-sizing:border-box;"></div>
<div class="abs" style="left:956px;top:480px;width:13px;height:6px;background:#f6f6f6;border-right:1px solid #888;border-bottom:1px solid #666;box-sizing:border-box;"></div>
<div class="abs" style="left:962px;top:482px;width:1px;height:2px;background:#333;"></div>
<!-- bottom right buttons -->
<div class="abs" style="left:982px;top:473px;width:14px;height:13px;background:#e2e2e2;border:1px solid #b8b8b8;box-sizing:border-box;"></div>
<svg class="abs" style="left:983px;top:474px" width="12" height="11" viewBox="0 0 12 11"><path d="M7.300 1.200 C5.500 1 4 2 3.600 3.600 L1.300 4.300 L3.200 6.600 L6.300 5.600 L5.200 4.500 C5.500 3.500 6.300 2.600 7.600 2.200 Z" fill="#1558a8"/><path d="M4.700 9.800 C6.500 10 8 9 8.400 7.400 L10.700 6.700 L8.800 4.400 L5.700 5.400 L6.800 6.500 C6.500 7.500 5.700 8.400 4.400 8.800 Z" fill="#1558a8"/></svg>
<div class="abs" style="left:996px;top:478px;width:16px;height:8px;background:#e2e2e2;border:1px solid #bcbcbc;box-sizing:border-box;"></div>
<div class="abs" style="left:1003px;top:478px;width:1px;height:8px;background:#bcbcbc;"></div>
<svg class="abs" style="left:997px;top:479px" width="14" height="6" viewBox="0 0 14 6"><path d="M5.500 0 V6 L1 3Z M8.500 0 V6 L13 3Z" fill="#1010d0"/></svg>
</body></html>
